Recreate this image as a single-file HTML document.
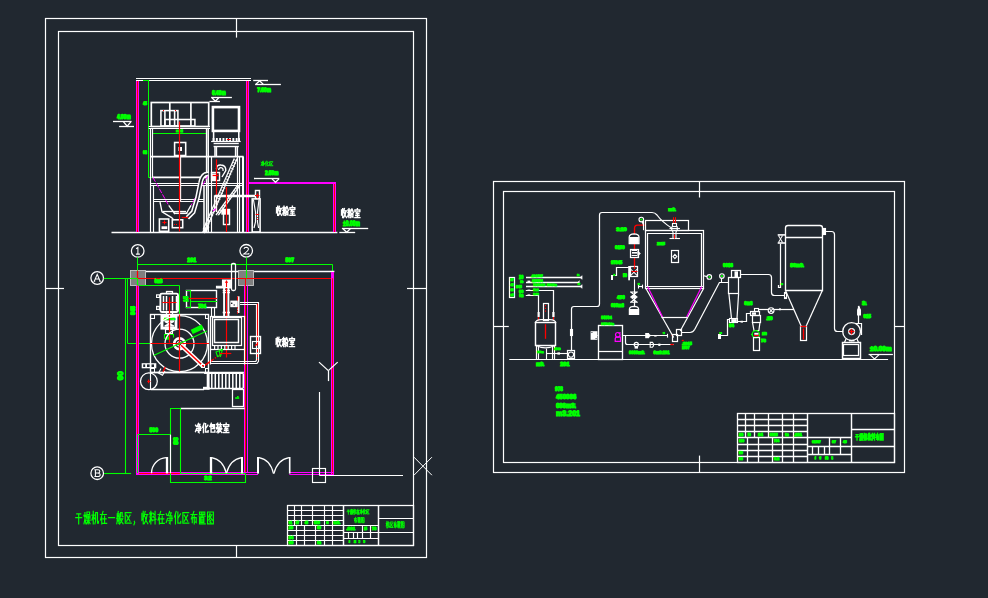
<!DOCTYPE html>
<html><head><meta charset="utf-8"><title>CAD</title>
<style>html,body{margin:0;padding:0;background:#212830;overflow:hidden}svg{display:block}</style></head>
<body><svg width="988" height="598" viewBox="0 0 988 598">
<rect width="988" height="598" fill="#212830"/>
<!-- left sheet frame -->
<rect x="45.5" y="18.5" width="381" height="539" stroke="#ffffff" stroke-width="1.2" fill="none"/>
<rect x="58.5" y="31.5" width="355" height="514" stroke="#ffffff" stroke-width="1.2" fill="none"/>
<line x1="236.5" y1="18.5" x2="236.5" y2="37.6" stroke="#ffffff" stroke-width="1.2"/>
<line x1="236.5" y1="545.5" x2="236.5" y2="557.5" stroke="#ffffff" stroke-width="1.2"/>
<line x1="45.5" y1="288.5" x2="64" y2="288.5" stroke="#ffffff" stroke-width="1.2"/>
<line x1="407" y1="288.5" x2="426.5" y2="288.5" stroke="#ffffff" stroke-width="1.2"/>
<line x1="414" y1="457.2" x2="431.9" y2="475.2" stroke="#ffffff" stroke-width="1"/>
<line x1="414" y1="475.2" x2="431.9" y2="457.2" stroke="#ffffff" stroke-width="1"/>
<!-- elevation view -->
<line x1="111.5" y1="232.5" x2="337.4" y2="232.5" stroke="#ffffff" stroke-width="1.3"/>
<line x1="136" y1="78.5" x2="251" y2="78.5" stroke="#ffffff" stroke-width="1.1"/>
<line x1="136" y1="80.5" x2="251" y2="80.5" stroke="#ffffff" stroke-width="1.1"/>
<line x1="137.5" y1="81" x2="137.5" y2="232" stroke="#ff00ff" stroke-width="3"/>
<line x1="137.5" y1="81" x2="137.5" y2="232" stroke="#ff0000" stroke-width="1"/>
<line x1="247.5" y1="81" x2="247.5" y2="232" stroke="#ff00ff" stroke-width="3"/>
<line x1="247.5" y1="81" x2="247.5" y2="232" stroke="#ff0000" stroke-width="1"/>
<line x1="249" y1="183" x2="336" y2="183" stroke="#ff00ff" stroke-width="2.1"/>
<line x1="334.5" y1="182" x2="334.5" y2="232" stroke="#ff00ff" stroke-width="3"/>
<line x1="334.5" y1="184" x2="334.5" y2="232" stroke="#ff0000" stroke-width="1"/>
<line x1="148.5" y1="80.7" x2="148.5" y2="177.6" stroke="#00ff00" stroke-width="1"/>
<line x1="143" y1="80.5" x2="149.2" y2="80.5" stroke="#00ff00" stroke-width="1"/>
<line x1="148.6" y1="177.5" x2="152.7" y2="177.5" stroke="#00ff00" stroke-width="1"/>
<line x1="148.6" y1="128.5" x2="152.3" y2="128.5" stroke="#00ff00" stroke-width="1"/>
<line x1="152.5" y1="128.4" x2="152.5" y2="133.6" stroke="#00ff00" stroke-width="1"/>
<line x1="206.5" y1="128.4" x2="206.5" y2="133.6" stroke="#00ff00" stroke-width="1"/>
<line x1="152.3" y1="133.5" x2="206.3" y2="133.5" stroke="#00ff00" stroke-width="1"/>
<rect x="143.3" y="101.7" width="3.4" height="2.8" fill="#00ff00" opacity="0.75"/>
<text text-rendering="geometricPrecision" x="143" y="104.9" font-family="Liberation Sans, sans-serif" font-weight="bold" font-size="4.97" textLength="4" lengthAdjust="spacingAndGlyphs" fill="#00ff00" stroke="#00ff00" stroke-width="0.95">45</text>
<rect x="143.3" y="150.7" width="3.4" height="2.9" fill="#00ff00" opacity="0.75"/>
<text text-rendering="geometricPrecision" x="143" y="154" font-family="Liberation Sans, sans-serif" font-weight="bold" font-size="5.11" textLength="4" lengthAdjust="spacingAndGlyphs" fill="#00ff00" stroke="#00ff00" stroke-width="0.95">08</text>
<rect x="176.3" y="129.6" width="6.4" height="1.7" fill="#00ff00" opacity="0.75"/>
<text text-rendering="geometricPrecision" x="176" y="131.7" font-family="Liberation Sans, sans-serif" font-weight="bold" font-size="3.45" textLength="7" lengthAdjust="spacingAndGlyphs" fill="#00ff00" stroke="#00ff00" stroke-width="0.83">m3.2</text>
<rect x="151.3" y="102.5" width="57.4" height="24" stroke="#ffffff" stroke-width="1.69" fill="none"/>
<line x1="169.8" y1="102.5" x2="169.8" y2="126.5" stroke="#ffffff" stroke-width="1.69"/>
<line x1="190.9" y1="102.5" x2="190.9" y2="126.5" stroke="#ffffff" stroke-width="1.69"/>
<rect x="160.9" y="110.6" width="17" height="15.4" stroke="#ffffff" stroke-width="1.56" fill="none"/>
<line x1="164.9" y1="110.6" x2="164.9" y2="126" stroke="#ffffff" stroke-width="1.56"/>
<line x1="174.6" y1="110.6" x2="174.6" y2="126" stroke="#ffffff" stroke-width="1.56"/>
<rect x="164.9" y="119.5" width="30" height="6.5" stroke="#ffffff" stroke-width="1.56" fill="none"/>
<line x1="163" y1="110.5" x2="164" y2="110.5" stroke="#ff0000" stroke-width="1.2"/>
<line x1="175" y1="110.5" x2="176" y2="110.5" stroke="#ff0000" stroke-width="1.2"/>
<line x1="148.7" y1="126.5" x2="210" y2="126.5" stroke="#ffffff" stroke-width="1.17"/>
<line x1="148.7" y1="128.5" x2="210" y2="128.5" stroke="#ffffff" stroke-width="1.17"/>
<line x1="150.5" y1="128.4" x2="150.5" y2="232.5" stroke="#ffffff" stroke-width="1.17"/>
<line x1="152.5" y1="128.4" x2="152.5" y2="177.4" stroke="#ffffff" stroke-width="1.17"/>
<line x1="153.5" y1="185.6" x2="153.5" y2="232.5" stroke="#ffffff" stroke-width="1.17"/>
<line x1="206.5" y1="128.4" x2="206.5" y2="232.5" stroke="#ffffff" stroke-width="1.3"/>
<line x1="208.2" y1="128.4" x2="208.2" y2="232.5" stroke="#ffffff" stroke-width="1.56"/>
<line x1="150.3" y1="156.6" x2="243.6" y2="156.6" stroke="#ffffff" stroke-width="1.82"/>
<rect x="174.6" y="142.5" width="11.1" height="13" stroke="#ffffff" stroke-width="1.56" fill="none"/>
<rect x="178.4" y="147" width="3.6" height="4" fill="#ffffff"/>
<line x1="180.5" y1="156.6" x2="180.5" y2="201.5" stroke="#ffffff" stroke-width="1.3"/>
<line x1="152" y1="177.4" x2="207" y2="177.4" stroke="#ffffff" stroke-width="1.56"/>
<line x1="150.5" y1="183.5" x2="243.6" y2="183.5" stroke="#ffffff" stroke-width="1.1"/>
<line x1="150.5" y1="185.5" x2="243.6" y2="185.5" stroke="#ffffff" stroke-width="1.1"/>
<line x1="153.6" y1="199.5" x2="204" y2="199.5" stroke="#ffffff" stroke-width="1.1"/>
<line x1="153.6" y1="201.5" x2="204" y2="201.5" stroke="#ffffff" stroke-width="1.1"/>
<line x1="204" y1="185" x2="204" y2="232.5" stroke="#ffffff" stroke-width="1.56"/>
<line x1="152.9" y1="177.4" x2="168.7" y2="205.4" stroke="#ff00ff" stroke-width="1" stroke-dasharray="5 1.5"/>
<line x1="208.3" y1="175.2" x2="191" y2="205.4" stroke="#ff00ff" stroke-width="1" stroke-dasharray="5 1.5"/>
<line x1="168.7" y1="205.4" x2="175" y2="214" stroke="#ffffff" stroke-width="1.3"/>
<line x1="191" y1="205.4" x2="186.5" y2="213.3" stroke="#ffffff" stroke-width="1.3"/>
<line x1="173.8" y1="213.3" x2="187.4" y2="213.3" stroke="#ffffff" stroke-width="1.56"/>
<path d="M160 202 L162 211.8 L171.6 217.6 L173.8 220" stroke="#ffffff" stroke-width="1.3" fill="none"/>
<path d="M162.5 211.5 L186 211.5" stroke="#ffffff" stroke-width="1.3" fill="none"/>
<path d="M187.4 217.8 L193.2 212 L197.5 197.5 L200.4 183.1 Q201.5 176.5 205 174.5 L208.3 173.7" stroke="#ffffff" stroke-width="4.68" fill="none"/>
<path d="M187.4 217.8 L193.2 212 L197.5 197.5 L200.4 183.1 Q201.5 176.5 205 174.5 L208.3 173.7" stroke="#212830" stroke-width="1.6" fill="none"/>
<rect x="159.4" y="219" width="9.3" height="12.3" stroke="#ffffff" stroke-width="1.56" fill="none"/>
<rect x="161.5" y="226.3" width="5.8" height="2.8" fill="#ffffff"/>
<line x1="162.4" y1="222.5" x2="166.4" y2="222.5" stroke="#ff0000" stroke-width="1.1"/>
<line x1="164.5" y1="220.4" x2="164.5" y2="224.4" stroke="#ff0000" stroke-width="1.1"/>
<rect x="172.3" y="219.8" width="10.4" height="7.9" stroke="#ffffff" stroke-width="1.56" fill="none"/>
<line x1="174" y1="224.5" x2="177" y2="224.5" stroke="#ff0000" stroke-width="1" stroke-dasharray="1 1"/>
<line x1="181.7" y1="217.5" x2="188.2" y2="217.5" stroke="#ff0000" stroke-width="1.2"/>
<line x1="179.5" y1="121.6" x2="179.5" y2="231.5" stroke="#ff0000" stroke-width="1.2"/>
<rect x="212.9" y="107.1" width="26.1" height="23.8" stroke="#ffffff" stroke-width="2.6" fill="none"/>
<line x1="213.6" y1="130.9" x2="213.6" y2="141" stroke="#ffffff" stroke-width="1.56"/>
<line x1="238.8" y1="130.9" x2="238.8" y2="141" stroke="#ffffff" stroke-width="1.56"/>
<line x1="212.6" y1="139.6" x2="240" y2="139.6" stroke="#ffffff" stroke-width="3.25" stroke-dasharray="1.9 1.4"/>
<line x1="227" y1="139.5" x2="230.5" y2="139.5" stroke="#ff0000" stroke-width="1"/>
<line x1="211.1" y1="141.5" x2="240.7" y2="141.5" stroke="#ffffff" stroke-width="1.17"/>
<line x1="213.6" y1="143.5" x2="238.8" y2="143.5" stroke="#ffffff" stroke-width="1.43"/>
<line x1="213.6" y1="146.5" x2="238.8" y2="146.5" stroke="#ffffff" stroke-width="1.43"/>
<line x1="215" y1="146.3" x2="215" y2="156.6" stroke="#ffffff" stroke-width="1.56"/>
<line x1="216.5" y1="146.3" x2="216.5" y2="156.6" stroke="#ffffff" stroke-width="1.3"/>
<line x1="235.5" y1="146.3" x2="235.5" y2="156.6" stroke="#ffffff" stroke-width="1.3"/>
<line x1="237.3" y1="146.3" x2="237.3" y2="156.6" stroke="#ffffff" stroke-width="1.56"/>
<line x1="211.5" y1="156.6" x2="211.5" y2="232.5" stroke="#ffffff" stroke-width="1.17"/>
<line x1="237.5" y1="156.6" x2="237.5" y2="232.5" stroke="#ffffff" stroke-width="1.17"/>
<line x1="239.5" y1="156.6" x2="239.5" y2="232.5" stroke="#ffffff" stroke-width="1.17"/>
<line x1="243" y1="156.6" x2="243" y2="232.5" stroke="#ffffff" stroke-width="2.08"/>
<line x1="237.1" y1="158.6" x2="206" y2="229.5" stroke="#ffffff" stroke-width="1.3"/>
<line x1="234.3" y1="158.6" x2="203.2" y2="229.5" stroke="#ffffff" stroke-width="1.3"/>
<line x1="236" y1="160" x2="205" y2="230.5" stroke="#ffffff" stroke-width="3.25" stroke-dasharray="0.8 2.2"/>
<line x1="240" y1="185.3" x2="218.4" y2="215" stroke="#ffffff" stroke-width="1.3"/>
<line x1="237.5" y1="185.3" x2="216" y2="215" stroke="#ffffff" stroke-width="1.3"/>
<line x1="238.8" y1="186" x2="217.2" y2="215" stroke="#ffffff" stroke-width="3.12" stroke-dasharray="0.8 2.2"/>
<path d="M208.2 226 L203.5 232.5" stroke="#ffffff" stroke-width="3.25" fill="none"/>
<path d="M216.5 169 Q216.5 164.5 221 165 Q226 165.3 225.8 170.5 L222 177" stroke="#ffffff" stroke-width="1.43" fill="none"/>
<path d="M218.5 170 Q219 167.5 221 167.6 Q223.5 168 223 171" stroke="#ffffff" stroke-width="1.3" fill="none"/>
<rect x="211.5" y="172.5" width="8" height="8" stroke="#ffffff" stroke-width="1.43" fill="none"/>
<rect x="211.6" y="173.5" width="4.4" height="7" fill="#ffffff"/>
<line x1="216.5" y1="159.4" x2="216.5" y2="212" stroke="#ff0000" stroke-width="1.2"/>
<line x1="212.6" y1="175.5" x2="218.6" y2="175.5" stroke="#ff0000" stroke-width="1.2"/>
<line x1="214.8" y1="195.5" x2="255.8" y2="195.5" stroke="#ffffff" stroke-width="1.3"/>
<line x1="214.8" y1="196.5" x2="255.8" y2="196.5" stroke="#ffffff" stroke-width="1.3"/>
<line x1="214.5" y1="195.3" x2="214.5" y2="212" stroke="#ffffff" stroke-width="1.3"/>
<line x1="216.5" y1="196.9" x2="216.5" y2="212" stroke="#ffffff" stroke-width="1.3"/>
<rect x="223.5" y="209.5" width="6" height="15" stroke="#ffffff" stroke-width="1.43" fill="none"/>
<rect x="221.3" y="209.7" width="8.6" height="5" fill="#ffffff"/>
<line x1="226.5" y1="187.1" x2="226.5" y2="232" stroke="#ff0000" stroke-width="1.2"/>
<line x1="213" y1="211" x2="216" y2="208.6" stroke="#ff00ff" stroke-width="1.2"/>
<rect x="255.5" y="190.5" width="4" height="8" stroke="#ffffff" stroke-width="1.43" fill="none"/>
<rect x="252.2" y="198.9" width="7.9" height="33.1" stroke="#ffffff" stroke-width="1.56" fill="none"/>
<path d="M253.4 199.5 L255.5 212 L255.5 222 L254 228" stroke="#ffffff" stroke-width="1.17" fill="none"/>
<path d="M259 199.5 L257.5 212 L257.5 222 L258.6 228" stroke="#ffffff" stroke-width="1.17" fill="none"/>
<line x1="255" y1="195.5" x2="259.4" y2="195.5" stroke="#ff0000" stroke-width="1.1"/>
<line x1="257.5" y1="193.5" x2="257.5" y2="198.2" stroke="#ff0000" stroke-width="1.1"/>
<line x1="255.6" y1="214.5" x2="258.8" y2="214.5" stroke="#ff0000" stroke-width="1.1"/>
<line x1="257.5" y1="217" x2="257.5" y2="221" stroke="#ff0000" stroke-width="0.9" stroke-dasharray="1 1"/>
<line x1="113" y1="121.5" x2="131.6" y2="121.5" stroke="#ffffff" stroke-width="1.3"/>
<path d="M123.5 121.9 L127.2 126.2 L130.8 121.9" stroke="#ffffff" stroke-width="1.3" fill="none"/>
<line x1="119.1" y1="126.5" x2="134" y2="126.5" stroke="#ffffff" stroke-width="1.3"/>
<rect x="117.3" y="114" width="13.2" height="4.2" fill="#00ff00" opacity="0.55"/>
<text text-rendering="geometricPrecision" x="117" y="118.6" font-family="Liberation Sans, sans-serif" font-weight="bold" font-size="6.9" textLength="13.8" lengthAdjust="spacingAndGlyphs" fill="#00ff00" stroke="#00ff00" stroke-width="0.95">4.00m</text>
<line x1="211.1" y1="97.5" x2="231.9" y2="97.5" stroke="#ffffff" stroke-width="1.3"/>
<path d="M212 97.8 L215.4 101.2 L218.7 97.8" stroke="#ffffff" stroke-width="1.3" fill="none"/>
<line x1="209.4" y1="101.5" x2="219.9" y2="101.5" stroke="#ffffff" stroke-width="1.3"/>
<rect x="212.3" y="90.2" width="13.2" height="4.1" fill="#00ff00" opacity="0.55"/>
<text text-rendering="geometricPrecision" x="212" y="94.7" font-family="Liberation Sans, sans-serif" font-weight="bold" font-size="6.76" textLength="13.8" lengthAdjust="spacingAndGlyphs" fill="#00ff00" stroke="#00ff00" stroke-width="0.95">6.40m</text>
<line x1="253.2" y1="80.5" x2="268" y2="80.5" stroke="#ffffff" stroke-width="1.3"/>
<path d="M255.9 84.2 L259.6 80.8 L263.2 84.2" stroke="#ffffff" stroke-width="1.3" fill="none"/>
<line x1="255.1" y1="84.5" x2="280.9" y2="84.5" stroke="#ffffff" stroke-width="1.3"/>
<rect x="257.5" y="87.5" width="13.2" height="4" fill="#00ff00" opacity="0.55"/>
<text text-rendering="geometricPrecision" x="257.2" y="91.9" font-family="Liberation Sans, sans-serif" font-weight="bold" font-size="6.62" textLength="13.8" lengthAdjust="spacingAndGlyphs" fill="#00ff00" stroke="#00ff00" stroke-width="0.95">7.60m</text>
<line x1="254" y1="178.5" x2="279.3" y2="178.5" stroke="#ffffff" stroke-width="1.3"/>
<path d="M272 178.9 L275.5 182.3 L279 178.9" stroke="#ffffff" stroke-width="1.3" fill="none"/>
<path d="M261.17 162.16 L261.55 162.74 M261.14 165.52 L261.69 164.22 M262.89 161.2 L262.21 162.64 M262.83 161.78 L263.76 161.78 L263.34 162.64 M262.21 162.88 L264.1 162.88 L264.1 164.8 L262.21 164.8 M261.86 163.84 L264.44 163.84 M263.17 162.64 L263.17 166 L262.72 165.71 M266.23 161.2 L265.37 163.36 M265.89 162.64 L265.89 166 M268.51 162.16 L267.13 163.94 M267.13 161.44 L267.13 165.76 L268.64 165.76 L268.64 165.04 M272.67 161.68 L269.64 161.68 L269.64 165.76 L272.74 165.76 M270.36 162.64 L272.16 165.04 M272.16 162.64 L270.36 165.04" stroke="#00ff00" stroke-width="0.9" fill="none" stroke-linecap="square"/>
<rect x="265.3" y="170.8" width="12.9" height="4" fill="#00ff00" opacity="0.55"/>
<text text-rendering="geometricPrecision" x="265" y="175.2" font-family="Liberation Sans, sans-serif" font-weight="bold" font-size="6.62" textLength="13.5" lengthAdjust="spacingAndGlyphs" fill="#00ff00" stroke="#00ff00" stroke-width="0.95">2.50m</text>
<line x1="341.9" y1="228.5" x2="368.2" y2="228.5" stroke="#ffffff" stroke-width="1.3"/>
<path d="M343 228.8 L346.7 232.3 L350.3 228.8" stroke="#ffffff" stroke-width="1.3" fill="none"/>
<line x1="339.3" y1="232.5" x2="355.2" y2="232.5" stroke="#ffffff" stroke-width="1.3"/>
<rect x="343.3" y="220.6" width="16.4" height="5" fill="#00ff00" opacity="0.3"/>
<text text-rendering="geometricPrecision" x="343" y="226" font-family="Liberation Sans, sans-serif" font-weight="bold" font-size="8" textLength="17" lengthAdjust="spacingAndGlyphs" fill="#00ff00" stroke="#00ff00" stroke-width="0.95">±0.00m</text>
<path d="M276.56 207.65 L276.56 212.6 L277.68 211.7 M277.68 206.3 L277.68 215.3 M279.36 206.3 L278.52 209.9 M279.08 208.55 L281.6 208.55 M281.04 208.55 L280.2 212.15 L278.52 215.3 M279.25 210.35 L280.2 213.05 L281.6 215.3 M283.98 206.3 L283.98 215.3 M282.8 210.35 L285.32 210.35 M283.02 207.47 L283.42 209 M284.98 207.47 L284.54 209 M283.98 210.35 L282.8 213.95 M283.98 210.8 L285.26 213.05 M286.72 206.75 L285.6 210.35 M287.06 206.75 L288.4 210.35 M285.94 211.25 L287.84 211.25 L287.84 214.94 L287.28 214.67 M286.72 211.25 L285.6 215.3 M292.4 206.3 L292.4 207.47 M289.94 209.18 L289.94 207.65 L294.86 207.65 L294.86 209.18 M290.72 209.54 L294.08 209.54 M292.4 209.54 L291.28 211.34 L293.86 211.34 M290.72 213.14 L294.08 213.14 M292.4 211.34 L292.4 215.3 M289.88 215.3 L294.92 215.3" stroke="#ffffff" stroke-width="1.4" fill="none" stroke-linecap="square"/>
<path d="M341.56 209.95 L341.56 214.9 L342.68 214 M342.68 208.6 L342.68 217.6 M344.36 208.6 L343.52 212.2 M344.08 210.85 L346.6 210.85 M346.04 210.85 L345.2 214.45 L343.52 217.6 M344.25 212.65 L345.2 215.35 L346.6 217.6 M348.98 208.6 L348.98 217.6 M347.8 212.65 L350.32 212.65 M348.02 209.77 L348.42 211.3 M349.98 209.77 L349.54 211.3 M348.98 212.65 L347.8 216.25 M348.98 213.1 L350.26 215.35 M351.72 209.05 L350.6 212.65 M352.06 209.05 L353.4 212.65 M350.94 213.55 L352.84 213.55 L352.84 217.24 L352.28 216.97 M351.72 213.55 L350.6 217.6 M357.4 208.6 L357.4 209.77 M354.94 211.48 L354.94 209.95 L359.86 209.95 L359.86 211.48 M355.72 211.84 L359.08 211.84 M357.4 211.84 L356.28 213.64 L358.86 213.64 M355.72 215.44 L359.08 215.44 M357.4 213.64 L357.4 217.6 M354.88 217.6 L359.92 217.6" stroke="#ffffff" stroke-width="1.4" fill="none" stroke-linecap="square"/>
<!-- plan view -->
<rect x="130.5" y="270.5" width="15" height="15" stroke="#c8c8c8" stroke-width="0.9" fill="#808080"/>
<rect x="238.5" y="270.5" width="15" height="15" stroke="#c8c8c8" stroke-width="0.9" fill="#808080"/>
<circle cx="137.7" cy="250.9" r="6.3" stroke="#ffffff" stroke-width="1.26" fill="none"/>
<path transform="translate(137.7 250.9)" d="M-1.6 -2.2 L0.2 -3.4 L0.2 3.2 M-1.8 3.2 L2.2 3.2" stroke="#fff" stroke-width="1.05" fill="none"/>
<circle cx="246.2" cy="250.8" r="6.3" stroke="#ffffff" stroke-width="1.26" fill="none"/>
<path transform="translate(246.2 250.8)" d="M-2.2 -1.8 Q-2 -3.5 0 -3.5 Q2.3 -3.4 2.2 -1.6 Q2 0 -2.4 3.2 L2.6 3.2 L2.6 2.2" stroke="#fff" stroke-width="1.05" fill="none"/>
<circle cx="97.2" cy="278" r="6.3" stroke="#ffffff" stroke-width="1.26" fill="none"/>
<path transform="translate(97.2 278)" d="M-2.9 3.3 L0 -3.6 L2.9 3.3 M-1.8 1 L1.8 1 M-3.6 3.3 L-2 3.3 M2 3.3 L3.6 3.3" stroke="#fff" stroke-width="1.05" fill="none"/>
<circle cx="97.2" cy="473.2" r="6.3" stroke="#ffffff" stroke-width="1.26" fill="none"/>
<path transform="translate(97.2 473.2)" d="M-2.8 -3.4 L0.8 -3.4 Q2.6 -3.3 2.6 -1.8 Q2.6 -0.3 0.8 -0.2 L-1.8 -0.2 M0.8 -0.2 Q3 0 3 1.6 Q3 3.3 0.8 3.3 L-2.8 3.3 M-1.8 -3.4 L-1.8 3.3" stroke="#fff" stroke-width="1.05" fill="none"/>
<line x1="137.5" y1="257.4" x2="137.5" y2="270.7" stroke="#00ff00" stroke-width="1"/>
<line x1="246.5" y1="257.4" x2="246.5" y2="271" stroke="#00ff00" stroke-width="1"/>
<line x1="103.7" y1="278.5" x2="137.7" y2="278.5" stroke="#00ff00" stroke-width="1"/>
<line x1="104.1" y1="473.5" x2="131.1" y2="473.5" stroke="#00ff00" stroke-width="1.1"/>
<line x1="137.7" y1="264.5" x2="332.7" y2="264.5" stroke="#00ff00" stroke-width="1"/>
<line x1="332.5" y1="264.6" x2="332.5" y2="278.2" stroke="#00ff00" stroke-width="1"/>
<rect x="187.5" y="257.8" width="8.4" height="3.6" fill="#00ff00" opacity="0.75"/>
<text text-rendering="geometricPrecision" x="187.2" y="261.8" font-family="Liberation Sans, sans-serif" font-weight="bold" font-size="6.07" textLength="9" lengthAdjust="spacingAndGlyphs" fill="#00ff00" stroke="#00ff00" stroke-width="0.95">201</text>
<rect x="285.8" y="257.8" width="8" height="3.6" fill="#00ff00" opacity="0.75"/>
<text text-rendering="geometricPrecision" x="285.5" y="261.8" font-family="Liberation Sans, sans-serif" font-weight="bold" font-size="6.07" textLength="8.6" lengthAdjust="spacingAndGlyphs" fill="#00ff00" stroke="#00ff00" stroke-width="0.95">597</text>
<line x1="145.9" y1="271.5" x2="238.3" y2="271.5" stroke="#ffffff" stroke-width="1.26"/>
<line x1="254.1" y1="271.5" x2="334.4" y2="271.5" stroke="#ffffff" stroke-width="1.26"/>
<line x1="137.7" y1="278.5" x2="332.7" y2="278.5" stroke="#ff0000" stroke-width="1.2"/>
<line x1="137.5" y1="270.7" x2="137.5" y2="278.4" stroke="#ff0000" stroke-width="1.2"/>
<line x1="137.5" y1="278.4" x2="137.5" y2="285.6" stroke="#00ff00" stroke-width="1.2"/>
<line x1="246.5" y1="271" x2="246.5" y2="278.4" stroke="#00ff00" stroke-width="1.1"/>
<line x1="125.5" y1="278.4" x2="125.5" y2="473.5" stroke="#00ff00" stroke-width="1.1"/>
<line x1="127.5" y1="278.4" x2="127.5" y2="343.4" stroke="#00ff00" stroke-width="1"/>
<line x1="127.6" y1="343.5" x2="150.8" y2="343.5" stroke="#00ff00" stroke-width="1"/>
<line x1="137.7" y1="285.5" x2="179.6" y2="285.5" stroke="#00ff00" stroke-width="1"/>
<line x1="179.5" y1="285.7" x2="179.5" y2="314.4" stroke="#00ff00" stroke-width="1"/>
<rect x="130.3" y="306.4" width="3.9" height="8.2" fill="#00ff00" opacity="0.75"/>
<text text-rendering="geometricPrecision" transform="translate(134.5 315) rotate(-90)" x="0" y="0" font-family="Liberation Sans, sans-serif" font-weight="bold" font-size="6.21" textLength="9" lengthAdjust="spacingAndGlyphs" fill="#00ff00" stroke="#00ff00" stroke-width="0.95">845</text>
<rect x="117.6" y="371.6" width="5.1" height="8.2" fill="#00ff00" opacity="0.3"/>
<text text-rendering="geometricPrecision" transform="translate(123 380.2) rotate(-90)" x="0" y="0" font-family="Liberation Sans, sans-serif" font-weight="bold" font-size="7.87" textLength="9" lengthAdjust="spacingAndGlyphs" fill="#00ff00" stroke="#00ff00" stroke-width="0.95">00</text>
<rect x="154.8" y="279.2" width="7.5" height="3.6" fill="#00ff00" opacity="0.75"/>
<text text-rendering="geometricPrecision" x="154.5" y="283.2" font-family="Liberation Sans, sans-serif" font-weight="bold" font-size="6.07" textLength="8.1" lengthAdjust="spacingAndGlyphs" fill="#00ff00" stroke="#00ff00" stroke-width="0.95">6m3</text>
<line x1="137.5" y1="285.6" x2="137.5" y2="475" stroke="#ff00ff" stroke-width="3"/>
<line x1="137.5" y1="285.6" x2="137.5" y2="434.5" stroke="#ff0000" stroke-width="1"/>
<line x1="244.5" y1="285.4" x2="244.5" y2="472" stroke="#ff00ff" stroke-width="1"/>
<line x1="245.5" y1="278.3" x2="245.5" y2="472" stroke="#ff0000" stroke-width="1"/>
<line x1="247.5" y1="285.4" x2="247.5" y2="472" stroke="#ff00ff" stroke-width="1"/>
<line x1="332.5" y1="272" x2="332.5" y2="475" stroke="#ff00ff" stroke-width="3"/>
<line x1="332.5" y1="278.3" x2="332.5" y2="474" stroke="#ff0000" stroke-width="1"/>
<line x1="136" y1="473.5" x2="181" y2="473.5" stroke="#ff00ff" stroke-width="3"/>
<line x1="139" y1="473.5" x2="181" y2="473.5" stroke="#ff0000" stroke-width="1"/>
<line x1="181" y1="472.5" x2="258" y2="472.5" stroke="#ff00ff" stroke-width="1"/>
<line x1="181" y1="474.5" x2="258" y2="474.5" stroke="#ff00ff" stroke-width="1"/>
<line x1="289.3" y1="472.5" x2="334" y2="472.5" stroke="#ff00ff" stroke-width="1"/>
<line x1="289.3" y1="474.5" x2="334" y2="474.5" stroke="#ff00ff" stroke-width="1"/>
<rect x="231.5" y="263.5" width="4" height="27" stroke="#ffffff" stroke-width="1.26" fill="none" rx="1.5"/>
<path d="M222.5 280 L230.8 280 L230.8 288 L216.5 288 L216.5 286.2 L222.5 286.2 Z" stroke="#ffffff" stroke-width="1.15" fill="#ffffff"/>
<line x1="226.5" y1="281" x2="226.5" y2="287" stroke="#ff0000" stroke-width="1.1"/>
<path d="M225.4 283 L226.5 280.6 L227.6 283" stroke="#ff0000" stroke-width="0.8" fill="none"/>
<line x1="224.1" y1="288" x2="224.1" y2="316" stroke="#ffffff" stroke-width="1.95"/>
<line x1="228.4" y1="288" x2="228.4" y2="316" stroke="#ffffff" stroke-width="1.95"/>
<line x1="222.7" y1="290.5" x2="230" y2="290.5" stroke="#ffffff" stroke-width="1.38"/>
<line x1="222.7" y1="292.5" x2="230" y2="292.5" stroke="#ffffff" stroke-width="1.38"/>
<line x1="222.7" y1="312.5" x2="230" y2="312.5" stroke="#ffffff" stroke-width="1.61"/>
<line x1="226.5" y1="288" x2="226.5" y2="357.5" stroke="#ff0000" stroke-width="1.2"/>
<rect x="230.3" y="300.6" width="6.9" height="6.6" fill="#ffffff"/>
<rect x="231" y="302.6" width="1.4" height="1.4" fill="#212830"/>
<rect x="233.6" y="304.4" width="1.2" height="1.2" fill="#212830"/>
<line x1="238.4" y1="296.3" x2="238.4" y2="313" stroke="#ffffff" stroke-width="2.18"/>
<line x1="237.5" y1="296.5" x2="237.5" y2="300.6" stroke="#ff0000" stroke-width="1.1"/>
<line x1="237.5" y1="307.2" x2="237.5" y2="314.5" stroke="#ff0000" stroke-width="1" stroke-dasharray="1.5 1"/>
<path d="M240 302.5 L258.5 302.5 L258.5 361.4 L257 363.5 L210.5 363.5" stroke="#ffffff" stroke-width="1.15" fill="none"/>
<path d="M240 304.5 L256.5 304.5 L256.5 360 L255.8 361.5 L210.5 361.5" stroke="#ffffff" stroke-width="1.15" fill="none"/>
<line x1="257.5" y1="303.7" x2="257.5" y2="345.4" stroke="#ff0000" stroke-width="1.1"/>
<line x1="257.5" y1="349" x2="257.5" y2="360" stroke="#ff0000" stroke-width="1" stroke-dasharray="3 2"/>
<rect x="250.5" y="336.5" width="10" height="17" stroke="#ffffff" stroke-width="1.38" fill="none"/>
<rect x="252.5" y="341.5" width="7" height="7" stroke="#ffffff" stroke-width="1.15" fill="none"/>
<path d="M255 346 L257.7 343.5" stroke="#ff0000" stroke-width="1.1" fill="none"/>
<rect x="160.4" y="293.6" width="17.6" height="18.4" stroke="#ffffff" stroke-width="1.84" fill="none" rx="1.5"/>
<rect x="166.5" y="291.5" width="6" height="2" stroke="#ffffff" stroke-width="1.26" fill="none"/>
<rect x="156" y="294.3" width="4.4" height="3.7" fill="#ffffff"/>
<rect x="156" y="305.8" width="4.4" height="4.2" fill="#ffffff"/>
<rect x="157.2" y="295.4" width="1.6" height="1.6" fill="#212830"/>
<rect x="157.2" y="307.2" width="1.6" height="1.6" fill="#212830"/>
<line x1="163.5" y1="296" x2="163.5" y2="310.5" stroke="#ffffff" stroke-width="1.49"/>
<line x1="166.5" y1="296" x2="166.5" y2="310.5" stroke="#ffffff" stroke-width="1.49"/>
<line x1="172.5" y1="296" x2="172.5" y2="310.5" stroke="#ffffff" stroke-width="1.49"/>
<line x1="176.5" y1="296" x2="176.5" y2="310.5" stroke="#ffffff" stroke-width="1.49"/>
<line x1="162.3" y1="302.5" x2="176.5" y2="302.5" stroke="#ff0000" stroke-width="1.1"/>
<line x1="166.5" y1="312" x2="166.5" y2="314.5" stroke="#ffffff" stroke-width="1.38"/>
<line x1="172.5" y1="312" x2="172.5" y2="314.5" stroke="#ffffff" stroke-width="1.38"/>
<rect x="160.5" y="314.5" width="16.9" height="15.1" fill="#ffffff"/>
<rect x="163.4" y="320.4" width="11.2" height="6.4" fill="#212830"/>
<rect x="164" y="317.8" width="10.9" height="1.3" fill="#00ff00" opacity="0.75"/>
<text text-rendering="geometricPrecision" x="163.7" y="319.5" font-family="Liberation Sans, sans-serif" font-weight="bold" font-size="2.9" textLength="11.5" lengthAdjust="spacingAndGlyphs" fill="#00ff00" stroke="#00ff00" stroke-width="0.7">.2015978</text>
<path d="M164.5 321.2 L174 321.2 M164.5 326 L174 326 M165 321.5 L173.5 325.8 M173.5 321.5 L165 325.8" stroke="#ffffff" stroke-width="1.49" fill="none"/>
<rect x="165.5" y="329.5" width="7" height="4" stroke="#ffffff" stroke-width="1.15" fill="none"/>
<path d="M164.5 339 L164.5 334.5 L173.5 334.5 L173.5 337.5" stroke="#00ff00" stroke-width="1.1" fill="none"/>
<rect x="166" y="336.5" width="3" height="3.2" fill="#00ff00"/>
<line x1="169.5" y1="297.2" x2="169.5" y2="342.6" stroke="#ff0000" stroke-width="1.2"/>
<rect x="186.5" y="290.5" width="30" height="17" stroke="#ffffff" stroke-width="1.38" fill="none"/>
<line x1="190.5" y1="290.5" x2="190.5" y2="307.7" stroke="#00ff00" stroke-width="1.1"/>
<line x1="186" y1="290.5" x2="190.8" y2="290.5" stroke="#00ff00" stroke-width="1"/>
<line x1="186" y1="307.5" x2="190.8" y2="307.5" stroke="#00ff00" stroke-width="1"/>
<line x1="188" y1="298.5" x2="217" y2="298.5" stroke="#ff0000" stroke-width="1.2"/>
<line x1="190.8" y1="301.5" x2="217" y2="301.5" stroke="#00ff00" stroke-width="1.1"/>
<rect x="183.4" y="296.6" width="4.2" height="5" fill="#00ff00" opacity="0.55"/>
<text text-rendering="geometricPrecision" transform="translate(187.9 302) rotate(-90)" x="0" y="0" font-family="Liberation Sans, sans-serif" font-weight="bold" font-size="6.62" textLength="5.8" lengthAdjust="spacingAndGlyphs" fill="#00ff00" stroke="#00ff00" stroke-width="0.95">15</text>
<rect x="198.5" y="304.4" width="7.4" height="3.4" fill="#00ff00" opacity="0.75"/>
<text text-rendering="geometricPrecision" x="198.2" y="308.2" font-family="Liberation Sans, sans-serif" font-weight="bold" font-size="5.8" textLength="8" lengthAdjust="spacingAndGlyphs" fill="#00ff00" stroke="#00ff00" stroke-width="0.95">784</text>
<line x1="211.5" y1="307.7" x2="211.5" y2="316.7" stroke="#ffffff" stroke-width="1.15"/>
<line x1="214.5" y1="307.7" x2="214.5" y2="316.7" stroke="#ffffff" stroke-width="1.15"/>
<rect x="150.5" y="314.5" width="58" height="58" stroke="#ffffff" stroke-width="1.38" fill="none"/>
<rect x="150.5" y="314.5" width="4" height="4" stroke="#ffffff" stroke-width="1.03" fill="none"/>
<rect x="205.5" y="314.5" width="3" height="4" stroke="#ffffff" stroke-width="1.03" fill="none"/>
<rect x="150.5" y="368.5" width="4" height="4" stroke="#ffffff" stroke-width="1.03" fill="none"/>
<rect x="205.5" y="368.5" width="3" height="4" stroke="#ffffff" stroke-width="1.03" fill="none"/>
<circle cx="179.5" cy="343.7" r="28" stroke="#ffffff" stroke-width="1.26" fill="none"/>
<circle cx="179.5" cy="343.7" r="14.5" stroke="#ffffff" stroke-width="1.26" fill="none"/>
<circle cx="179.5" cy="343.7" r="5.3" stroke="#ffffff" stroke-width="2.76" fill="none"/>
<circle cx="179.5" cy="343.7" r="2.2" stroke="#ffffff" stroke-width="1.03" fill="none"/>
<line x1="150.5" y1="343.5" x2="209" y2="343.5" stroke="#ff0000" stroke-width="1.2"/>
<line x1="179.5" y1="314.5" x2="179.5" y2="371.5" stroke="#ff0000" stroke-width="1.2"/>
<line x1="153.6" y1="355.5" x2="206.9" y2="331" stroke="#00ff00" stroke-width="1.1"/>
<g transform="rotate(-24.7 197.5 329.5)"><rect x="191.3" y="326.8" width="12" height="4.8" fill="#00ff00"/></g>
<line x1="181" y1="345.2" x2="203.3" y2="366.3" stroke="#ffffff" stroke-width="4.37"/>
<line x1="181" y1="345.2" x2="203.3" y2="366.3" stroke="#ff0000" stroke-width="1.4"/>
<line x1="203.3" y1="366.3" x2="212.6" y2="359.8" stroke="#ff0000" stroke-width="1.6"/>
<line x1="212.6" y1="359.8" x2="221" y2="354" stroke="#ff0000" stroke-width="1.3" stroke-dasharray="1.5 1.2"/>
<rect x="201.5" y="364.5" width="3" height="3" stroke="#ffffff" stroke-width="1.03" fill="none"/>
<rect x="210.5" y="316.5" width="34" height="33" stroke="#ffffff" stroke-width="1.26" fill="none"/>
<rect x="212.5" y="317.5" width="29" height="28" stroke="#ffffff" stroke-width="1.26" fill="none"/>
<rect x="214.5" y="319.5" width="24" height="23" stroke="#ffffff" stroke-width="1.49" fill="none"/>
<line x1="214" y1="347.6" x2="237" y2="347.6" stroke="#ffffff" stroke-width="4.14" stroke-dasharray="1.2 2.2"/>
<line x1="210.5" y1="349.5" x2="210.5" y2="364.5" stroke="#ffffff" stroke-width="1.15"/>
<line x1="244.5" y1="349.5" x2="244.5" y2="364.5" stroke="#ffffff" stroke-width="1.15"/>
<path d="M216 352 L222.5 349.2 L221 355 L217.5 356.5 Z M219 349.5 L220.5 357" stroke="#00ff00" stroke-width="1.1" fill="none"/>
<line x1="219.8" y1="353.5" x2="231.3" y2="353.5" stroke="#ff0000" stroke-width="1.2"/>
<rect x="141.7" y="363.2" width="14.6" height="5.1" fill="#ffffff"/>
<rect x="143.2" y="364.4" width="2" height="2.6" fill="#212830"/>
<rect x="147" y="364.4" width="2.6" height="2.6" fill="#212830"/>
<rect x="151.5" y="364.4" width="2.5" height="2.6" fill="#212830"/>
<circle cx="148.9" cy="381.3" r="8.4" stroke="#ffffff" stroke-width="1.26" fill="none"/>
<line x1="150.5" y1="372" x2="150.5" y2="389.5" stroke="#ffffff" stroke-width="1.15"/>
<line x1="147.3" y1="381.5" x2="150.4" y2="381.5" stroke="#ff0000" stroke-width="1.1"/>
<line x1="148.5" y1="379.5" x2="148.5" y2="383.2" stroke="#ff0000" stroke-width="1.1"/>
<path d="M161 368.5 L158.5 373 L162.5 375.3 L165 371" stroke="#ffffff" stroke-width="1.15" fill="none"/>
<line x1="165.2" y1="367" x2="163" y2="372" stroke="#ff0000" stroke-width="1.4"/>
<line x1="150.6" y1="372.5" x2="243.9" y2="372.5" stroke="#ffffff" stroke-width="1.26"/>
<line x1="150.6" y1="389.5" x2="204.1" y2="389.5" stroke="#ffffff" stroke-width="1.26"/>
<rect x="203" y="386.8" width="6.6" height="3" fill="#ffffff"/>
<line x1="204.1" y1="373.5" x2="243.1" y2="373.5" stroke="#ffffff" stroke-width="1.15"/>
<line x1="207" y1="388.5" x2="243.1" y2="388.5" stroke="#ffffff" stroke-width="1.26"/>
<rect x="206.7" y="373.2" width="2.9" height="15.3" fill="#ffffff"/>
<rect x="211.05" y="373.4" width="1.5" height="14.9" fill="#fff"/>
<rect x="214.55" y="373.4" width="1.5" height="14.9" fill="#fff"/>
<rect x="218.05" y="373.4" width="1.5" height="14.9" fill="#fff"/>
<rect x="221.55" y="373.4" width="1.5" height="14.9" fill="#fff"/>
<rect x="225.05" y="373.4" width="1.5" height="14.9" fill="#fff"/>
<rect x="228.55" y="373.4" width="1.5" height="14.9" fill="#fff"/>
<rect x="232.05" y="373.4" width="1.5" height="14.9" fill="#fff"/>
<rect x="235.55" y="373.4" width="1.5" height="14.9" fill="#fff"/>
<rect x="239.05" y="373.4" width="1.5" height="14.9" fill="#fff"/>
<rect x="242.55" y="373.4" width="1.5" height="14.9" fill="#fff"/>
<rect x="232.5" y="389.5" width="11" height="17" stroke="#ffffff" stroke-width="1.26" fill="none"/>
<rect x="235.2" y="397.2" width="4" height="1.7" fill="#00ff00"/>
<rect x="237" y="396" width="1.6" height="1.3" fill="#00ff00"/>
<line x1="180.6" y1="408.5" x2="244.7" y2="408.5" stroke="#ffffff" stroke-width="1.26"/>
<path d="M170.5 473.4 L170.5 408.5 L180.5 408.5 L180.5 473.5 L245.5 473.5" stroke="#00ff00" stroke-width="1.1" fill="none"/>
<line x1="137.7" y1="434.5" x2="170.4" y2="434.5" stroke="#00ff00" stroke-width="1.1"/>
<line x1="137.5" y1="434.6" x2="137.5" y2="473" stroke="#00ff00" stroke-width="1"/>
<line x1="170.5" y1="434.6" x2="170.5" y2="473.4" stroke="#ffffff" stroke-width="1.15"/>
<path d="M170.5 473.4 L170.5 482.5 L245.5 482.5 L245.5 474" stroke="#00ff00" stroke-width="1.1" fill="none"/>
<rect x="149.7" y="427.6" width="8.2" height="3.7" fill="#00ff00" opacity="0.75"/>
<text text-rendering="geometricPrecision" x="149.4" y="431.7" font-family="Liberation Sans, sans-serif" font-weight="bold" font-size="6.21" textLength="8.8" lengthAdjust="spacingAndGlyphs" fill="#00ff00" stroke="#00ff00" stroke-width="0.95">500</text>
<rect x="173.3" y="437.5" width="4.2" height="6.9" fill="#00ff00" opacity="0.55"/>
<text text-rendering="geometricPrecision" transform="translate(177.8 444.8) rotate(-90)" x="0" y="0" font-family="Liberation Sans, sans-serif" font-weight="bold" font-size="6.62" textLength="7.7" lengthAdjust="spacingAndGlyphs" fill="#00ff00" stroke="#00ff00" stroke-width="0.95">86</text>
<rect x="204.6" y="475.8" width="6.7" height="3.5" fill="#00ff00" opacity="0.75"/>
<text text-rendering="geometricPrecision" x="204.3" y="479.7" font-family="Liberation Sans, sans-serif" font-weight="bold" font-size="5.93" textLength="7.3" lengthAdjust="spacingAndGlyphs" fill="#00ff00" stroke="#00ff00" stroke-width="0.95">3.2</text>
<line x1="167" y1="457" x2="167" y2="473.4" stroke="#ffffff" stroke-width="2.3"/>
<path d="M166.2 457.6 A15.5 15.5 0 0 0 151.5 473.2" stroke="#ffffff" stroke-width="1.26" fill="none"/>
<line x1="211" y1="457" x2="211" y2="473.4" stroke="#ffffff" stroke-width="2.3"/>
<path d="M211.6 457.6 Q223 459.5 226.3 473.2" stroke="#ffffff" stroke-width="1.26" fill="none"/>
<line x1="242" y1="457" x2="242" y2="473.4" stroke="#ffffff" stroke-width="2.01"/>
<path d="M241.5 457.6 Q230 459.5 226.5 473.2" stroke="#ffffff" stroke-width="1.26" fill="none"/>
<line x1="258" y1="457" x2="258" y2="473.6" stroke="#ffffff" stroke-width="2.01"/>
<path d="M259 457.6 Q270.3 459.5 273.5 473.6" stroke="#ffffff" stroke-width="1.26" fill="none"/>
<line x1="289.7" y1="457" x2="289.7" y2="473.6" stroke="#ffffff" stroke-width="1.61"/>
<path d="M289 457.6 Q277.5 459.5 273.9 473.6" stroke="#ffffff" stroke-width="1.26" fill="none"/>
<line x1="319.5" y1="392" x2="319.5" y2="475.5" stroke="#ffffff" stroke-width="1.15"/>
<line x1="319.5" y1="475.5" x2="403" y2="475.5" stroke="#ffffff" stroke-width="1.15"/>
<rect x="312.5" y="468.5" width="13" height="14" stroke="#ffffff" stroke-width="1.15" fill="none"/>
<line x1="319" y1="362.1" x2="328.3" y2="370.6" stroke="#ffffff" stroke-width="1.26"/>
<line x1="337.7" y1="362.1" x2="328.3" y2="370.6" stroke="#ffffff" stroke-width="1.26"/>
<line x1="328.5" y1="370.6" x2="328.5" y2="381.1" stroke="#ffffff" stroke-width="1.26"/>
<path d="M276.16 338.78 L276.16 343.84 L277.28 342.92 M277.28 337.4 L277.28 346.6 M278.96 337.4 L278.12 341.08 M278.68 339.7 L281.2 339.7 M280.64 339.7 L279.8 343.38 L278.12 346.6 M278.85 341.54 L279.8 344.3 L281.2 346.6 M283.58 337.4 L283.58 346.6 M282.4 341.54 L284.92 341.54 M282.62 338.6 L283.02 340.16 M284.58 338.6 L284.14 340.16 M283.58 341.54 L282.4 345.22 M283.58 342 L284.86 344.3 M286.32 337.86 L285.2 341.54 M286.66 337.86 L288 341.54 M285.54 342.46 L287.44 342.46 L287.44 346.23 L286.88 345.96 M286.32 342.46 L285.2 346.6 M292 337.4 L292 338.6 M289.54 340.34 L289.54 338.78 L294.46 338.78 L294.46 340.34 M290.32 340.71 L293.68 340.71 M292 340.71 L290.88 342.55 L293.46 342.55 M290.32 344.39 L293.68 344.39 M292 342.55 L292 346.6 M289.48 346.6 L294.52 346.6" stroke="#ffffff" stroke-width="1.4" fill="none" stroke-linecap="square"/>
<path d="M195.59 425.14 L196.23 426.24 M195.53 431.58 L196.46 429.1 M198.49 423.3 L197.33 426.06 M198.37 424.4 L199.94 424.4 L199.24 426.06 M197.33 426.52 L200.52 426.52 L200.52 430.2 L197.33 430.2 M196.75 428.36 L201.1 428.36 M198.95 426.06 L198.95 432.5 L198.2 431.95 M204.04 423.3 L202.59 427.44 M203.46 426.06 L203.46 432.5 M207.87 425.14 L205.55 428.54 M205.55 423.76 L205.55 432.04 L208.1 432.04 L208.1 430.66 M211.33 423.3 L209.88 426.52 M211.04 424.77 L214.52 424.77 L214.52 428.82 L213.94 428.64 M211.04 426.24 L213.36 426.24 L213.36 428.45 L211.04 428.45 M211.04 426.24 L211.04 432.13 L214.87 432.13 L214.87 430.66 M217.75 423.3 L217.75 427.9 M216.59 424.22 L217.17 425.14 M216.53 427.53 L217.75 426.52 M218.91 424.68 L221.87 424.68 M220.36 423.3 L220.36 426.98 M219.49 426.98 L221.29 426.98 M219.2 427.53 L219.2 428.45 M216.59 428.82 L221.81 428.82 M219.2 428.82 L216.88 432.04 M218.33 430.29 L218.33 432.5 L219.2 431.86 M220.94 429.74 L219.9 431.12 M219.61 430.29 L221.87 432.5 M226.2 423.3 L226.2 424.5 M223.65 426.24 L223.65 424.68 L228.75 424.68 L228.75 426.24 M224.46 426.61 L227.94 426.61 M226.2 426.61 L225.04 428.45 L227.71 428.45 M224.46 430.29 L227.94 430.29 M226.2 428.45 L226.2 432.5 M223.59 432.5 L228.81 432.5" stroke="#ffffff" stroke-width="1.4" fill="none" stroke-linecap="square"/>
<path d="M76.72 513.88 L80.68 513.88 M75.73 517.6 L81.67 517.6 M78.7 513.88 L78.7 523.8 M84.95 512.64 L84.95 518.84 L83.96 523.8 M84.95 518.84 L85.94 523.8 M83.83 515.12 L84.16 516.36 M86.07 515.12 L85.74 516.36 M86.93 512.02 L89.57 512.02 L89.57 514.5 L86.93 514.5 L86.93 512.02 M86.47 515.74 L87.79 515.74 L87.79 518.22 L86.47 518.22 L86.47 515.74 M88.71 515.74 L90.03 515.74 L90.03 518.22 L88.71 518.22 L88.71 515.74 M86.27 520.08 L90.23 520.08 M88.25 518.22 L88.25 523.8 M88.25 520.08 L86.6 523.8 M88.25 520.08 L90.1 523.8 M91.86 515.12 L94.63 515.12 M93.25 511.4 L93.25 523.8 M93.25 515.12 L91.86 520.08 M93.25 515.74 L94.63 518.84 M95.62 512.64 L95.62 520.7 L94.9 523.8 M95.62 512.64 L97.47 512.64 L97.47 523.18 L98.46 523.18 L98.46 521.32 M100.42 514.5 L106.36 514.5 M103.06 511.4 L100.42 520.08 M101.74 517.6 L101.74 523.8 M103.06 518.84 L106.16 518.84 M104.58 516.11 L104.58 523.3 M102.73 523.3 L106.69 523.3 M108.65 517.6 L114.59 517.6 M118.27 511.4 L117.87 513.63 M117.21 513.88 L117.21 521.32 L116.75 523.8 M117.21 513.88 L119.19 513.88 L119.19 523.8 L118.66 523.18 M116.55 518.22 L119.85 518.22 M118.13 515.37 L118.33 516.61 M118.13 519.83 L118.33 521.07 M120.51 512.64 L120.51 516.11 L119.98 517.6 M120.51 512.64 L122.16 512.64 L122.16 516.73 L123.15 516.73 M120.18 518.84 L122.69 518.84 L119.85 523.8 M120.51 520.08 L123.15 523.8 M131.05 512.64 L125.24 512.64 L125.24 523.18 L131.18 523.18 M126.63 515.12 L130.06 521.32 M130.06 515.12 L126.63 521.32 M134.33 521.32 L134.73 522.56 L133.93 524.79 M141.9 513.26 L141.9 520.08 L143.22 518.84 M143.22 511.4 L143.22 523.8 M145.2 511.4 L144.21 516.36 M144.87 514.5 L147.84 514.5 M147.18 514.5 L146.19 519.46 L144.21 523.8 M145.07 516.98 L146.19 520.7 L147.84 523.8 M150.86 511.4 L150.86 523.8 M149.47 516.98 L152.44 516.98 M149.73 513.01 L150.2 515.12 M152.04 513.01 L151.52 515.12 M150.86 516.98 L149.47 521.94 M150.86 517.6 L152.37 520.7 M153.3 513.26 L154.09 514.62 M153.3 516.36 L154.09 517.72 M152.77 520.33 L156.07 519.21 M155.08 511.4 L155.08 523.8 M158.03 514.5 L163.97 514.5 M160.67 511.4 L158.03 520.08 M159.35 517.6 L159.35 523.8 M160.67 518.84 L163.77 518.84 M162.19 516.11 L162.19 523.3 M160.34 523.3 L164.3 523.3 M166.26 513.88 L166.99 515.37 M166.19 522.56 L167.25 519.21 M169.56 511.4 L168.24 515.12 M169.43 512.89 L171.21 512.89 L170.42 515.12 M168.24 515.74 L171.87 515.74 L171.87 520.7 L168.24 520.7 M167.58 518.22 L172.53 518.22 M170.09 515.12 L170.09 523.8 L169.23 523.06 M176.14 511.4 L174.49 516.98 M175.48 515.12 L175.48 523.8 M180.5 513.88 L177.86 518.47 M177.86 512.02 L177.86 523.18 L180.76 523.18 L180.76 521.32 M188.66 512.64 L182.85 512.64 L182.85 523.18 L188.79 523.18 M184.24 515.12 L187.67 521.32 M187.67 515.12 L184.24 521.32 M190.95 514.5 L196.89 514.5 M193.92 511.4 L191.28 518.84 M192.27 517.6 L192.27 522.56 M192.27 517.6 L196.23 517.6 L196.23 522.56 L195.57 522.06 M194.25 515.74 L194.25 523.8 M199.51 512.02 L204.79 512.02 L204.79 514.5 L199.51 514.5 L199.51 512.02 M201.29 512.02 L201.29 514.5 M203.01 512.02 L203.01 514.5 M199.18 516.11 L205.12 516.11 M202.15 514.5 L202.15 517.6 M200.7 517.6 L203.87 517.6 L203.87 522.44 L200.7 522.44 L200.7 517.6 M200.7 519.21 L203.87 519.21 M200.7 520.82 L203.87 520.82 M199.51 517.6 L199.51 523.8 L205.25 523.8 M207.54 512.02 L213.35 512.02 L213.35 523.8 L207.54 523.8 L207.54 512.02 M210.05 513.26 L208.73 516.98 M209.72 514.75 L211.7 514.75 L208.73 520.08 M209.72 516.61 L212.36 520.08 M210.05 520.08 L210.78 520.95 M209.72 521.82 L211.04 522.81" stroke="#00ff00" stroke-width="1.15" fill="none" stroke-linecap="square"/>
<!-- title block left -->
<rect x="287.5" y="505.5" width="126" height="40" stroke="#ffffff" stroke-width="1.26" fill="none"/>
<line x1="287.5" y1="510.5" x2="343.5" y2="510.5" stroke="#ffffff" stroke-width="1.15"/>
<line x1="287.5" y1="515.5" x2="343.5" y2="515.5" stroke="#ffffff" stroke-width="1.15"/>
<line x1="287.5" y1="520.5" x2="343.5" y2="520.5" stroke="#ffffff" stroke-width="1.15"/>
<line x1="287.5" y1="525.5" x2="343.5" y2="525.5" stroke="#ffffff" stroke-width="1.15"/>
<line x1="287.5" y1="530.5" x2="343.5" y2="530.5" stroke="#ffffff" stroke-width="1.15"/>
<line x1="287.5" y1="535.5" x2="343.5" y2="535.5" stroke="#ffffff" stroke-width="1.15"/>
<line x1="287.5" y1="540.5" x2="343.5" y2="540.5" stroke="#ffffff" stroke-width="1.15"/>
<line x1="294.5" y1="505.5" x2="294.5" y2="525.5" stroke="#ffffff" stroke-width="1.15"/>
<line x1="301.5" y1="505.5" x2="301.5" y2="525.5" stroke="#ffffff" stroke-width="1.15"/>
<line x1="312.5" y1="505.5" x2="312.5" y2="525.5" stroke="#ffffff" stroke-width="1.15"/>
<line x1="296.5" y1="525.5" x2="296.5" y2="545.5" stroke="#ffffff" stroke-width="1.15"/>
<line x1="304.5" y1="525.5" x2="304.5" y2="545.5" stroke="#ffffff" stroke-width="1.15"/>
<line x1="315.5" y1="525.5" x2="315.5" y2="545.5" stroke="#ffffff" stroke-width="1.15"/>
<line x1="324.5" y1="505.5" x2="324.5" y2="545.5" stroke="#ffffff" stroke-width="1.15"/>
<line x1="332.5" y1="505.5" x2="332.5" y2="545.5" stroke="#ffffff" stroke-width="1.15"/>
<line x1="343.5" y1="505.5" x2="343.5" y2="545.5" stroke="#ffffff" stroke-width="1.49"/>
<line x1="378.5" y1="505.5" x2="378.5" y2="545.5" stroke="#ffffff" stroke-width="1.49"/>
<line x1="343.5" y1="525.5" x2="378.5" y2="525.5" stroke="#ffffff" stroke-width="1.15"/>
<line x1="343.5" y1="532.5" x2="378.5" y2="532.5" stroke="#ffffff" stroke-width="1.15"/>
<line x1="343.5" y1="538.5" x2="378.5" y2="538.5" stroke="#ffffff" stroke-width="1.15"/>
<line x1="362.5" y1="525.5" x2="362.5" y2="538.5" stroke="#ffffff" stroke-width="1.15"/>
<line x1="370.5" y1="525.5" x2="370.5" y2="538.5" stroke="#ffffff" stroke-width="1.15"/>
<line x1="348.5" y1="532.5" x2="348.5" y2="538.5" stroke="#ffffff" stroke-width="1.15"/>
<line x1="353.5" y1="532.5" x2="353.5" y2="538.5" stroke="#ffffff" stroke-width="1.15"/>
<line x1="357.5" y1="532.5" x2="357.5" y2="538.5" stroke="#ffffff" stroke-width="1.15"/>
<line x1="378.5" y1="518.5" x2="413.5" y2="518.5" stroke="#ffffff" stroke-width="1.15"/>
<line x1="378.5" y1="532.5" x2="413.5" y2="532.5" stroke="#ffffff" stroke-width="1.15"/>
<rect x="289.09" y="521.5" width="2.66" height="2.32" fill="#00ff00" opacity="0.75"/>
<text text-rendering="geometricPrecision" x="288.79" y="524.22" font-family="Liberation Sans, sans-serif" font-weight="bold" font-size="4.3" textLength="3.26" lengthAdjust="spacingAndGlyphs" fill="#00ff00" stroke="#00ff00" stroke-width="0.95">01</text>
<rect x="296.17" y="521.5" width="2.66" height="2.32" fill="#00ff00" opacity="0.75"/>
<text text-rendering="geometricPrecision" x="295.87" y="524.22" font-family="Liberation Sans, sans-serif" font-weight="bold" font-size="4.3" textLength="3.26" lengthAdjust="spacingAndGlyphs" fill="#00ff00" stroke="#00ff00" stroke-width="0.95">97</text>
<rect x="305.1" y="521.5" width="2.66" height="2.32" fill="#00ff00" opacity="0.75"/>
<text text-rendering="geometricPrecision" x="304.8" y="524.22" font-family="Liberation Sans, sans-serif" font-weight="bold" font-size="4.3" textLength="3.26" lengthAdjust="spacingAndGlyphs" fill="#00ff00" stroke="#00ff00" stroke-width="0.95">45</text>
<rect x="314.31" y="521.5" width="5.35" height="2.32" fill="#00ff00" opacity="0.75"/>
<text text-rendering="geometricPrecision" x="314.01" y="524.22" font-family="Liberation Sans, sans-serif" font-weight="bold" font-size="4.3" textLength="5.95" lengthAdjust="spacingAndGlyphs" fill="#00ff00" stroke="#00ff00" stroke-width="0.95">086</text>
<rect x="326.05" y="521.1" width="2.83" height="3.12" fill="#00ff00"/>
<rect x="333.86" y="521.5" width="6.06" height="2.32" fill="#00ff00" opacity="0.75"/>
<text text-rendering="geometricPrecision" x="333.56" y="524.22" font-family="Liberation Sans, sans-serif" font-weight="bold" font-size="4.3" textLength="6.66" lengthAdjust="spacingAndGlyphs" fill="#00ff00" stroke="#00ff00" stroke-width="0.95">m3.</text>
<rect x="289.09" y="526.74" width="3.65" height="2.32" fill="#00ff00" opacity="0.75"/>
<text text-rendering="geometricPrecision" x="288.79" y="529.46" font-family="Liberation Sans, sans-serif" font-weight="bold" font-size="4.3" textLength="4.25" lengthAdjust="spacingAndGlyphs" fill="#00ff00" stroke="#00ff00" stroke-width="0.95">20</text>
<rect x="317.43" y="526.74" width="3.37" height="2.32" fill="#00ff00" opacity="0.75"/>
<text text-rendering="geometricPrecision" x="317.13" y="529.46" font-family="Liberation Sans, sans-serif" font-weight="bold" font-size="4.3" textLength="3.97" lengthAdjust="spacingAndGlyphs" fill="#00ff00" stroke="#00ff00" stroke-width="0.95">59</text>
<rect x="289.09" y="536.38" width="4.08" height="2.32" fill="#00ff00" opacity="0.75"/>
<text text-rendering="geometricPrecision" x="288.79" y="539.09" font-family="Liberation Sans, sans-serif" font-weight="bold" font-size="4.3" textLength="4.68" lengthAdjust="spacingAndGlyphs" fill="#00ff00" stroke="#00ff00" stroke-width="0.95">84</text>
<rect x="289.09" y="541.19" width="4.08" height="2.46" fill="#00ff00" opacity="0.75"/>
<text text-rendering="geometricPrecision" x="288.79" y="544.05" font-family="Liberation Sans, sans-serif" font-weight="bold" font-size="4.5" textLength="4.68" lengthAdjust="spacingAndGlyphs" fill="#00ff00" stroke="#00ff00" stroke-width="0.95">00</text>
<rect x="317.43" y="541.19" width="3.37" height="2.46" fill="#00ff00" opacity="0.75"/>
<text text-rendering="geometricPrecision" x="317.13" y="544.05" font-family="Liberation Sans, sans-serif" font-weight="bold" font-size="4.5" textLength="3.97" lengthAdjust="spacingAndGlyphs" fill="#00ff00" stroke="#00ff00" stroke-width="0.95">6m</text>
<path d="M347.54 510.2 L349.16 510.2 M347.13 511.7 L349.56 511.7 M348.35 510.2 L348.35 514.2 M350.76 509.7 L350.76 512.2 L350.36 514.2 M350.76 512.2 L351.17 514.2 M350.3 510.7 L350.44 511.2 M351.22 510.7 L351.08 511.2 M351.57 509.45 L352.65 509.45 L352.65 510.45 L351.57 510.45 L351.57 509.45 M351.38 510.95 L351.92 510.95 L351.92 511.95 L351.38 511.95 L351.38 510.95 M352.3 510.95 L352.84 510.95 L352.84 511.95 L352.3 511.95 L352.3 510.95 M351.3 512.7 L352.92 512.7 M352.11 511.95 L352.11 514.2 M352.11 512.7 L351.44 514.2 M352.11 512.7 L352.87 514.2 M353.44 510.7 L354.57 510.7 M354.01 509.2 L354.01 514.2 M354.01 510.7 L353.44 512.7 M354.01 510.95 L354.57 512.2 M354.98 509.7 L354.98 512.95 L354.68 514.2 M354.98 509.7 L355.74 509.7 L355.74 513.95 L356.14 513.95 L356.14 513.2 M356.8 510.45 L359.23 510.45 M357.88 509.2 L356.8 512.7 M357.34 511.7 L357.34 514.2 M357.88 512.2 L359.14 512.2 M358.5 511.1 L358.5 514 M357.74 514 L359.36 514 M360.01 510.2 L360.31 510.8 M359.99 513.7 L360.42 512.35 M361.37 509.2 L360.82 510.7 M361.31 509.8 L362.04 509.8 L361.72 510.7 M360.82 510.95 L362.31 510.95 L362.31 512.95 L360.82 512.95 M360.56 511.95 L362.58 511.95 M361.58 510.7 L361.58 514.2 L361.23 513.9 M363.91 509.2 L363.24 511.45 M363.64 510.7 L363.64 514.2 M365.69 510.2 L364.61 512.05 M364.61 509.45 L364.61 513.95 L365.8 513.95 L365.8 513.2 M368.88 509.7 L366.51 509.7 L366.51 513.95 L368.94 513.95 M367.08 510.7 L368.48 513.2 M368.48 510.7 L367.08 513.2" stroke="#00ff00" stroke-width="0.9" fill="none" stroke-linecap="square"/>
<path d="M354.34 518.65 L356.95 518.65 M355.65 517.3 L354.49 520.54 M354.93 520 L354.93 522.16 M354.93 520 L356.66 520 L356.66 522.16 L356.38 521.94 M355.8 519.19 L355.8 522.7 M358.09 517.57 L360.41 517.57 L360.41 518.65 L358.09 518.65 L358.09 517.57 M358.87 517.57 L358.87 518.65 M359.63 517.57 L359.63 518.65 M357.94 519.35 L360.56 519.35 M359.25 518.65 L359.25 520 M358.61 520 L360 520 L360 522.11 L358.61 522.11 L358.61 520 M358.61 520.7 L360 520.7 M358.61 521.4 L360 521.4 M358.09 520 L358.09 522.7 L360.61 522.7 M361.6 517.57 L364.15 517.57 L364.15 522.7 L361.6 522.7 L361.6 517.57 M362.7 518.11 L362.12 519.73 M362.56 518.76 L363.43 518.76 L362.12 521.08 M362.56 519.57 L363.72 521.08 M362.7 521.08 L363.02 521.46 M362.56 521.84 L363.14 522.27" stroke="#00ff00" stroke-width="0.9" fill="none" stroke-linecap="square"/>
<rect x="346.9" y="527.45" width="7.9" height="2.46" fill="#00ff00" opacity="0.75"/>
<text text-rendering="geometricPrecision" x="346.6" y="530.31" font-family="Liberation Sans, sans-serif" font-weight="bold" font-size="4.5" textLength="8.5" lengthAdjust="spacingAndGlyphs" fill="#00ff00" stroke="#00ff00" stroke-width="0.95">.201</text>
<rect x="364.19" y="527.45" width="2.66" height="2.46" fill="#00ff00" opacity="0.75"/>
<text text-rendering="geometricPrecision" x="363.89" y="530.31" font-family="Liberation Sans, sans-serif" font-weight="bold" font-size="4.5" textLength="3.26" lengthAdjust="spacingAndGlyphs" fill="#00ff00" stroke="#00ff00" stroke-width="0.95">15</text>
<rect x="372.41" y="527.45" width="3.65" height="2.46" fill="#00ff00" opacity="0.75"/>
<text text-rendering="geometricPrecision" x="372.11" y="530.31" font-family="Liberation Sans, sans-serif" font-weight="bold" font-size="4.5" textLength="4.25" lengthAdjust="spacingAndGlyphs" fill="#00ff00" stroke="#00ff00" stroke-width="0.95">78</text>
<rect x="349.45" y="540.49" width="0.68" height="2.03" fill="#00ff00" opacity="0.75"/>
<text text-rendering="geometricPrecision" transform="translate(350.43 542.92) rotate(-90)" x="0" y="0" font-family="Liberation Sans, sans-serif" font-weight="bold" font-size="1.76" textLength="2.83" lengthAdjust="spacingAndGlyphs" fill="#00ff00" stroke="#00ff00" stroke-width="0.42">500</text>
<rect x="353.99" y="540.49" width="1.53" height="2.03" fill="#00ff00" opacity="0.75"/>
<text text-rendering="geometricPrecision" transform="translate(355.81 542.92) rotate(-90)" x="0" y="0" font-family="Liberation Sans, sans-serif" font-weight="bold" font-size="2.93" textLength="2.83" lengthAdjust="spacingAndGlyphs" fill="#00ff00" stroke="#00ff00" stroke-width="0.7">86</text>
<rect x="358.52" y="540.49" width="0.82" height="2.03" fill="#00ff00" opacity="0.75"/>
<text text-rendering="geometricPrecision" transform="translate(359.64 542.92) rotate(-90)" x="0" y="0" font-family="Liberation Sans, sans-serif" font-weight="bold" font-size="1.96" textLength="2.83" lengthAdjust="spacingAndGlyphs" fill="#00ff00" stroke="#00ff00" stroke-width="0.47">3.2</text>
<rect x="363.62" y="540.49" width="1.1" height="2.03" fill="#00ff00" opacity="0.75"/>
<text text-rendering="geometricPrecision" transform="translate(365.02 542.92) rotate(-90)" x="0" y="0" font-family="Liberation Sans, sans-serif" font-weight="bold" font-size="2.35" textLength="2.83" lengthAdjust="spacingAndGlyphs" fill="#00ff00" stroke="#00ff00" stroke-width="0.56">015</text>
<path d="M386.2 523.32 L387.5 523.32 M386.85 521.4 L386.85 527.8 M386.85 523.32 L386.2 525.88 M386.85 523.64 L387.5 525.24 M387.97 522.04 L387.97 526.2 L387.63 527.8 M387.97 522.04 L388.83 522.04 L388.83 527.48 L389.3 527.48 L389.3 526.52 M392.89 522.04 L390.17 522.04 L390.17 527.48 L392.96 527.48 M390.82 523.32 L392.43 526.52 M392.43 523.32 L390.82 526.52 M393.85 523 L396.64 523 M395.25 521.4 L394.01 525.24 M394.47 524.6 L394.47 527.16 M394.47 524.6 L396.33 524.6 L396.33 527.16 L396.02 526.9 M395.4 523.64 L395.4 527.8 M397.76 521.72 L400.24 521.72 L400.24 523 L397.76 523 L397.76 521.72 M398.6 521.72 L398.6 523 M399.4 521.72 L399.4 523 M397.6 523.83 L400.39 523.83 M399 523 L399 524.6 M398.32 524.6 L399.81 524.6 L399.81 527.1 L398.32 527.1 L398.32 524.6 M398.32 525.43 L399.81 525.43 M398.32 526.26 L399.81 526.26 M397.76 524.6 L397.76 527.8 L400.46 527.8 M401.42 521.72 L404.14 521.72 L404.14 527.8 L401.42 527.8 L401.42 521.72 M402.59 522.36 L401.97 524.28 M402.44 523.13 L403.37 523.13 L401.97 525.88 M402.44 524.09 L403.68 525.88 M402.59 525.88 L402.94 526.33 M402.44 526.78 L403.06 527.29" stroke="#00ff00" stroke-width="0.95" fill="none" stroke-linecap="square"/>
<!-- right sheet frame -->
<rect x="493.5" y="181.5" width="411" height="291" stroke="#ffffff" stroke-width="1.2" fill="none"/>
<rect x="503.5" y="191.5" width="391" height="271" stroke="#ffffff" stroke-width="1.2" fill="none"/>
<line x1="699.5" y1="181.5" x2="699.5" y2="197.5" stroke="#ffffff" stroke-width="1.2"/>
<line x1="699.5" y1="455.6" x2="699.5" y2="472.5" stroke="#ffffff" stroke-width="1.2"/>
<line x1="493.5" y1="326.5" x2="508.8" y2="326.5" stroke="#ffffff" stroke-width="1.2"/>
<line x1="894.5" y1="326.5" x2="904.5" y2="326.5" stroke="#ffffff" stroke-width="1.2"/>
<line x1="509.3" y1="359.5" x2="888.1" y2="359.5" stroke="#ffffff" stroke-width="1.23"/>
<!-- feed manifold -->
<rect x="509.5" y="277.5" width="5" height="20" stroke="#ffffff" stroke-width="1.23" fill="none"/>
<rect x="510.7" y="279.1" width="2.7" height="1.8" fill="#00ff00" opacity="0.75"/>
<text text-rendering="geometricPrecision" x="510.4" y="281.3" font-family="Liberation Sans, sans-serif" font-weight="bold" font-size="3.59" textLength="3.3" lengthAdjust="spacingAndGlyphs" fill="#00ff00" stroke="#00ff00" stroke-width="0.86">97</text>
<rect x="510.7" y="283.9" width="2.7" height="1.8" fill="#00ff00" opacity="0.75"/>
<text text-rendering="geometricPrecision" x="510.4" y="286.1" font-family="Liberation Sans, sans-serif" font-weight="bold" font-size="3.59" textLength="3.3" lengthAdjust="spacingAndGlyphs" fill="#00ff00" stroke="#00ff00" stroke-width="0.86">45</text>
<rect x="510.7" y="288.7" width="2.7" height="1.8" fill="#00ff00" opacity="0.75"/>
<text text-rendering="geometricPrecision" x="510.4" y="290.9" font-family="Liberation Sans, sans-serif" font-weight="bold" font-size="3.59" textLength="3.3" lengthAdjust="spacingAndGlyphs" fill="#00ff00" stroke="#00ff00" stroke-width="0.86">08</text>
<rect x="510.7" y="293.5" width="2.7" height="1.8" fill="#00ff00" opacity="0.75"/>
<text text-rendering="geometricPrecision" x="510.4" y="295.7" font-family="Liberation Sans, sans-serif" font-weight="bold" font-size="3.59" textLength="3.3" lengthAdjust="spacingAndGlyphs" fill="#00ff00" stroke="#00ff00" stroke-width="0.86">m3</text>
<line x1="526" y1="277.5" x2="581.8" y2="277.5" stroke="#ffffff" stroke-width="1.34"/>
<line x1="526" y1="282.5" x2="579" y2="282.5" stroke="#ffffff" stroke-width="1.34"/>
<line x1="526" y1="286.5" x2="581.8" y2="286.5" stroke="#ffffff" stroke-width="1.34"/>
<path d="M582.2 275.6 L580 277.5 L582.2 279.4 Z" stroke="#ffffff" stroke-width="0.34" fill="#ffffff"/>
<path d="M579.4 280.6 L577.6 282.5 L579.4 284.2 Z" stroke="#ffffff" stroke-width="0.34" fill="#ffffff"/>
<path d="M582.2 284.6 L580 286.5 L582.2 288.4 Z" stroke="#ffffff" stroke-width="0.34" fill="#ffffff"/>
<path d="M525.8 290.5 L553.5 290.5 L553.5 320.2" stroke="#ffffff" stroke-width="1.23" fill="none"/>
<path d="M525.8 295.5 L538.5 295.5 L538.5 320.2" stroke="#ffffff" stroke-width="1.23" fill="none"/>
<rect x="527.5" y="280.6" width="2.8" height="1.4" fill="#ffffff"/>
<rect x="527.5" y="289.6" width="2.8" height="1.4" fill="#ffffff"/>
<rect x="527.5" y="294.4" width="2.8" height="1.4" fill="#ffffff"/>
<rect x="519.32" y="275.46" width="3.78" height="3.42" fill="#00ff00" opacity="0.75"/>
<text text-rendering="geometricPrecision" x="519.02" y="279.28" font-family="Liberation Sans, sans-serif" font-weight="bold" font-size="5.82" textLength="4.38" lengthAdjust="spacingAndGlyphs" fill="#00ff00" stroke="#00ff00" stroke-width="0.95">20</text>
<rect x="520.45" y="280.82" width="2.65" height="1.63" fill="#00ff00" opacity="0.75"/>
<text text-rendering="geometricPrecision" x="520.15" y="282.85" font-family="Liberation Sans, sans-serif" font-weight="bold" font-size="3.36" textLength="3.25" lengthAdjust="spacingAndGlyphs" fill="#00ff00" stroke="#00ff00" stroke-width="0.81">59</text>
<rect x="516.4" y="285.2" width="5.08" height="2.12" fill="#00ff00" opacity="0.75"/>
<text text-rendering="geometricPrecision" x="516.1" y="287.72" font-family="Liberation Sans, sans-serif" font-weight="bold" font-size="4.03" textLength="5.68" lengthAdjust="spacingAndGlyphs" fill="#00ff00" stroke="#00ff00" stroke-width="0.95">845</text>
<rect x="519.32" y="289.74" width="3.78" height="2.45" fill="#00ff00" opacity="0.75"/>
<text text-rendering="geometricPrecision" x="519.02" y="292.59" font-family="Liberation Sans, sans-serif" font-weight="bold" font-size="4.48" textLength="4.38" lengthAdjust="spacingAndGlyphs" fill="#00ff00" stroke="#00ff00" stroke-width="0.95">00</text>
<rect x="519.64" y="294.28" width="3.46" height="2.77" fill="#00ff00" opacity="0.75"/>
<text text-rendering="geometricPrecision" x="519.34" y="297.45" font-family="Liberation Sans, sans-serif" font-weight="bold" font-size="4.93" textLength="4.06" lengthAdjust="spacingAndGlyphs" fill="#00ff00" stroke="#00ff00" stroke-width="0.95">6m</text>
<rect x="531.32" y="275.14" width="11.25" height="1.63" fill="#00ff00" opacity="0.75"/>
<text text-rendering="geometricPrecision" x="531.02" y="277.17" font-family="Liberation Sans, sans-serif" font-weight="bold" font-size="3.36" textLength="11.85" lengthAdjust="spacingAndGlyphs" fill="#00ff00" stroke="#00ff00" stroke-width="0.81">.201597</text>
<rect x="532.3" y="279.52" width="10.27" height="1.8" fill="#00ff00" opacity="0.75"/>
<text text-rendering="geometricPrecision" x="532" y="281.71" font-family="Liberation Sans, sans-serif" font-weight="bold" font-size="3.58" textLength="10.87" lengthAdjust="spacingAndGlyphs" fill="#00ff00" stroke="#00ff00" stroke-width="0.86">159784</text>
<rect x="533.43" y="284.06" width="11.57" height="1.63" fill="#00ff00" opacity="0.75"/>
<text text-rendering="geometricPrecision" x="533.13" y="286.1" font-family="Liberation Sans, sans-serif" font-weight="bold" font-size="3.36" textLength="12.17" lengthAdjust="spacingAndGlyphs" fill="#00ff00" stroke="#00ff00" stroke-width="0.81">78450086</text>
<rect x="547.23" y="284.06" width="9.46" height="1.63" fill="#00ff00" opacity="0.75"/>
<text text-rendering="geometricPrecision" x="546.93" y="286.1" font-family="Liberation Sans, sans-serif" font-weight="bold" font-size="3.36" textLength="10.06" lengthAdjust="spacingAndGlyphs" fill="#00ff00" stroke="#00ff00" stroke-width="0.81">50086m</text>
<rect x="533.43" y="288.6" width="5.08" height="1.63" fill="#00ff00" opacity="0.75"/>
<text text-rendering="geometricPrecision" x="533.13" y="290.64" font-family="Liberation Sans, sans-serif" font-weight="bold" font-size="3.36" textLength="5.68" lengthAdjust="spacingAndGlyphs" fill="#00ff00" stroke="#00ff00" stroke-width="0.81">86m3</text>
<rect x="533.43" y="293.31" width="5.08" height="1.31" fill="#00ff00" opacity="0.75"/>
<text text-rendering="geometricPrecision" x="533.13" y="295.02" font-family="Liberation Sans, sans-serif" font-weight="bold" font-size="2.91" textLength="5.68" lengthAdjust="spacingAndGlyphs" fill="#00ff00" stroke="#00ff00" stroke-width="0.7">3.20</text>
<rect x="577.25" y="274.32" width="1.83" height="1.31" fill="#00ff00" opacity="0.75"/>
<text text-rendering="geometricPrecision" x="576.95" y="276.03" font-family="Liberation Sans, sans-serif" font-weight="bold" font-size="2.91" textLength="2.43" lengthAdjust="spacingAndGlyphs" fill="#00ff00" stroke="#00ff00" stroke-width="0.7">01</text>
<rect x="578.06" y="283.25" width="1.83" height="1.15" fill="#00ff00" opacity="0.75"/>
<text text-rendering="geometricPrecision" x="577.76" y="284.8" font-family="Liberation Sans, sans-serif" font-weight="bold" font-size="2.69" textLength="2.43" lengthAdjust="spacingAndGlyphs" fill="#00ff00" stroke="#00ff00" stroke-width="0.64">97</text>
<!-- mixing tank -->
<rect x="543.5" y="303.5" width="5" height="17" stroke="#ffffff" stroke-width="1.23" fill="none"/>
<line x1="545.5" y1="305" x2="545.5" y2="313" stroke="#ff0000" stroke-width="1.2" stroke-dasharray="1.2 1.6"/>
<rect x="537.6" y="312" width="2.1" height="5" fill="#ffffff"/>
<rect x="552.3" y="312" width="2.2" height="5" fill="#ffffff"/>
<line x1="538.5" y1="317" x2="538.5" y2="320.5" stroke="#ff0000" stroke-width="1"/>
<line x1="553.5" y1="317" x2="553.5" y2="320.5" stroke="#ff0000" stroke-width="1"/>
<path d="M535.2 322.8 Q536 319.8 541 319.6 L550 319.6 Q555.2 319.8 555.9 322.8" stroke="#ffffff" stroke-width="1.23" fill="none"/>
<rect x="535.5" y="322.5" width="20" height="23" stroke="#ffffff" stroke-width="1.46" fill="none"/>
<path d="M535.8 345.3 Q545.5 350.6 555.3 345.3" stroke="#ffffff" stroke-width="1.23" fill="none"/>
<line x1="536.5" y1="345.3" x2="536.5" y2="359.3" stroke="#ffffff" stroke-width="1.23"/>
<line x1="538.5" y1="346" x2="538.5" y2="359.3" stroke="#ffffff" stroke-width="1.12"/>
<line x1="552.5" y1="346" x2="552.5" y2="359.3" stroke="#ffffff" stroke-width="1.12"/>
<line x1="554.5" y1="345.3" x2="554.5" y2="359.3" stroke="#ffffff" stroke-width="1.23"/>
<line x1="545.5" y1="324.2" x2="545.5" y2="338.8" stroke="#ff0000" stroke-width="1.3"/>
<line x1="546.5" y1="348.5" x2="546.5" y2="359.3" stroke="#ffffff" stroke-width="1.12"/>
<line x1="546.3" y1="353.5" x2="567.2" y2="353.5" stroke="#ffffff" stroke-width="1.12"/>
<rect x="557.4" y="352.4" width="2.6" height="2.2" fill="#ffffff"/>
<rect x="567.5" y="350.5" width="7" height="8" stroke="#ffffff" stroke-width="1.23" fill="none"/>
<circle cx="571" cy="354.6" r="2.6" stroke="#ffffff" stroke-width="1.12" fill="none"/>
<rect x="554.5" y="348.2" width="5.9" height="1.6" fill="#00ff00" opacity="0.75"/>
<text text-rendering="geometricPrecision" x="554.2" y="350.2" font-family="Liberation Sans, sans-serif" font-weight="bold" font-size="3.31" textLength="6.5" lengthAdjust="spacingAndGlyphs" fill="#00ff00" stroke="#00ff00" stroke-width="0.79">4500</text>
<rect x="537.5" y="351.1" width="5.9" height="1.5" fill="#00ff00" opacity="0.75"/>
<text text-rendering="geometricPrecision" x="537.2" y="353" font-family="Liberation Sans, sans-serif" font-weight="bold" font-size="3.17" textLength="6.5" lengthAdjust="spacingAndGlyphs" fill="#00ff00" stroke="#00ff00" stroke-width="0.76">086m</text>
<rect x="536.2" y="362.5" width="7.9" height="3.5" fill="#00ff00" opacity="0.75"/>
<text text-rendering="geometricPrecision" x="535.9" y="366.4" font-family="Liberation Sans, sans-serif" font-weight="bold" font-size="5.93" textLength="8.5" lengthAdjust="spacingAndGlyphs" fill="#00ff00" stroke="#00ff00" stroke-width="0.95">m3.</text>
<rect x="560.5" y="362.5" width="8.7" height="3.5" fill="#00ff00" opacity="0.75"/>
<text text-rendering="geometricPrecision" x="560.2" y="366.4" font-family="Liberation Sans, sans-serif" font-weight="bold" font-size="5.93" textLength="9.3" lengthAdjust="spacingAndGlyphs" fill="#00ff00" stroke="#00ff00" stroke-width="0.95">201</text>
<path d="M571.5 350.5 L571.5 309 Q571.5 306.5 574 306.5 L597 306.5 Q599.5 306.5 599.5 304 L599.5 215 Q599.5 212.5 602 212.5 L652 212.5 Q655 212.5 657 215 Q662 222 672 228.3" stroke="#ffffff" stroke-width="1.23" fill="none"/>
<rect x="570.5" y="329.5" width="2" height="6" stroke="#ffffff" stroke-width="1.12" fill="#ffffff"/>
<!-- heater box -->
<rect x="598.5" y="325.5" width="24" height="34" stroke="#ffffff" stroke-width="1.34" fill="none"/>
<line x1="598.4" y1="351.5" x2="622.7" y2="351.5" stroke="#ffffff" stroke-width="1.23"/>
<circle cx="617.8" cy="334.8" r="2.3" stroke="#ff00ff" stroke-width="1.2" fill="none"/>
<path d="M615.2 341.4 L615.2 338.6 Q615.4 337.2 617 337.2 L620.5 337.2 L620.5 341.4 Z M618.6 333.6 L620.6 332.4" stroke="#ff00ff" stroke-width="1.2" fill="none"/>
<rect x="590.6" y="331.2" width="6.8" height="8.6" fill="#ffffff"/>
<rect x="591.4" y="332" width="1" height="1" fill="#212830"/>
<rect x="595.6" y="338" width="1" height="1" fill="#212830"/>
<line x1="597.4" y1="335.5" x2="598.4" y2="335.5" stroke="#ffffff" stroke-width="1.12"/>
<rect x="601.6" y="316.5" width="9.9" height="2.5" fill="#00ff00" opacity="0.75"/>
<text text-rendering="geometricPrecision" x="601.3" y="319.4" font-family="Liberation Sans, sans-serif" font-weight="bold" font-size="4.55" textLength="10.5" lengthAdjust="spacingAndGlyphs" fill="#00ff00" stroke="#00ff00" stroke-width="0.95">59784</text>
<rect x="601.6" y="323" width="12.4" height="1.6" fill="#00ff00" opacity="0.75"/>
<text text-rendering="geometricPrecision" x="601.3" y="325" font-family="Liberation Sans, sans-serif" font-weight="bold" font-size="3.31" textLength="13" lengthAdjust="spacingAndGlyphs" fill="#00ff00" stroke="#00ff00" stroke-width="0.79">8450086m</text>
<line x1="622.7" y1="335.5" x2="668" y2="335.5" stroke="#ffffff" stroke-width="1.23"/>
<rect x="645.2" y="333" width="3.8" height="5.2" fill="#ffffff"/>
<path d="M649 333.8 L650.9 335.6 L649 337.4 Z" stroke="#ffffff" stroke-width="0.22" fill="#ffffff"/>
<rect x="654.2" y="335.1" width="2.4" height="1.5" fill="#ffffff"/>
<line x1="667.5" y1="333.8" x2="667.5" y2="337.6" stroke="#ffffff" stroke-width="1.12"/>
<path d="M625.5 335.5 L625.5 342.5 Q625.5 344.5 627.5 344.5 L673.7 344.5" stroke="#ffffff" stroke-width="1.23" fill="none"/>
<circle cx="636.3" cy="344.5" r="2.1" stroke="#ffffff" stroke-width="1.12" fill="none"/>
<rect x="634.6" y="346.4" width="3.4" height="2.2" fill="#ffffff"/>
<path d="M650.2 342.4 L652.5 342.4 Q654.8 344.8 652.5 347.2 L650.2 347.2 Z" stroke="#ffffff" stroke-width="1.12" fill="none"/>
<rect x="658.3" y="343.6" width="2.1" height="2.4" fill="#ffffff"/>
<line x1="670.4" y1="344.5" x2="673.7" y2="344.5" stroke="#ff0000" stroke-width="1.3"/>
<line x1="681.8" y1="340.5" x2="683.7" y2="340.5" stroke="#ff0000" stroke-width="1.3"/>
<line x1="671.5" y1="335.5" x2="672.6" y2="335.5" stroke="#ff0000" stroke-width="1.2"/>
<rect x="629.4" y="350.9" width="15.1" height="2.7" fill="#00ff00" opacity="0.75"/>
<text text-rendering="geometricPrecision" x="629.1" y="354" font-family="Liberation Sans, sans-serif" font-weight="bold" font-size="4.83" textLength="15.7" lengthAdjust="spacingAndGlyphs" fill="#00ff00" stroke="#00ff00" stroke-width="0.95">0086m3.</text>
<rect x="653.7" y="350.9" width="15.6" height="2.7" fill="#00ff00" opacity="0.75"/>
<text text-rendering="geometricPrecision" x="653.4" y="354" font-family="Liberation Sans, sans-serif" font-weight="bold" font-size="4.83" textLength="16.2" lengthAdjust="spacingAndGlyphs" fill="#00ff00" stroke="#00ff00" stroke-width="0.95">6m3.201</text>
<rect x="682.4" y="342.3" width="9.2" height="2.3" fill="#00ff00" opacity="0.75"/>
<text text-rendering="geometricPrecision" x="682.1" y="345" font-family="Liberation Sans, sans-serif" font-weight="bold" font-size="4.28" textLength="9.8" lengthAdjust="spacingAndGlyphs" fill="#00ff00" stroke="#00ff00" stroke-width="0.95">.2015</text>
<rect x="682.4" y="346" width="6.8" height="2.4" fill="#00ff00" opacity="0.75"/>
<text text-rendering="geometricPrecision" x="682.1" y="348.8" font-family="Liberation Sans, sans-serif" font-weight="bold" font-size="4.42" textLength="7.4" lengthAdjust="spacingAndGlyphs" fill="#00ff00" stroke="#00ff00" stroke-width="0.95">1597</text>
<rect x="663.1" y="332.2" width="1.4" height="1.1" fill="#00ff00" opacity="0.75"/>
<text text-rendering="geometricPrecision" x="662.8" y="333.7" font-family="Liberation Sans, sans-serif" font-weight="bold" font-size="2.62" textLength="2" lengthAdjust="spacingAndGlyphs" fill="#00ff00" stroke="#00ff00" stroke-width="0.63">78</text>
<!-- feed column devices -->
<circle cx="641.3" cy="219.6" r="2.3" stroke="#ffffff" stroke-width="1.12" fill="none"/>
<rect x="640.3" y="218.6" width="2.1" height="1.8" fill="#00ff00"/>
<line x1="642.2" y1="221.6" x2="643.4" y2="225" stroke="#ffffff" stroke-width="1.12"/>
<path d="M644.6 225.2 L637.5 225.2 Q634.5 225.2 634.5 228.5 L634.5 234 M634.5 243.7 L634.5 249.5 M634.5 257.5 L634.5 266.4" stroke="#ff0000" stroke-width="1.3" fill="none"/>
<path d="M629.2 243.7 L629.2 237 Q629.5 234 634 233.9 Q638.7 234 639 237 L639 243.7 Z" stroke="#ffffff" stroke-width="1.23" fill="none"/>
<rect x="629.4" y="237" width="9.4" height="6.6" fill="#ffffff"/>
<rect x="630.5" y="249.5" width="8" height="8" stroke="#ffffff" stroke-width="1.23" fill="none"/>
<rect x="632" y="252" width="5.4" height="1.6" fill="#ffffff"/>
<path d="M638 251.6 L640 253.5 L638 255.4 Z" stroke="#ffffff" stroke-width="1.12" fill="#ffffff"/>
<line x1="631.6" y1="250.5" x2="637" y2="250.5" stroke="#ffffff" stroke-width="1.01"/>
<line x1="631.6" y1="255.5" x2="637" y2="255.5" stroke="#ffffff" stroke-width="1.01"/>
<rect x="630.5" y="266.5" width="7" height="10" stroke="#ffffff" stroke-width="1.23" fill="none"/>
<line x1="630" y1="268.5" x2="637.8" y2="276.2" stroke="#ffffff" stroke-width="1.01"/>
<line x1="637.8" y1="268.5" x2="630" y2="276.2" stroke="#ffffff" stroke-width="1.01"/>
<rect x="628.2" y="266" width="1.8" height="14.3" fill="#ffffff"/>
<line x1="631.5" y1="271.5" x2="637.5" y2="271.5" stroke="#ff0000" stroke-width="1.1"/>
<line x1="634.5" y1="266.4" x2="634.5" y2="269" stroke="#ff0000" stroke-width="1.2"/>
<line x1="634.5" y1="279.3" x2="634.5" y2="306.4" stroke="#ffffff" stroke-width="1.12"/>
<path d="M628.7 267.5 L616.5 267.5 L616.5 275.5 L612.1 275.5" stroke="#ffffff" stroke-width="1.23" fill="none"/>
<rect x="611.5" y="275.5" width="1" height="4" stroke="#ffffff" stroke-width="1.01" fill="#ffffff"/>
<rect x="613.2" y="273.8" width="2.1" height="2.2" fill="#00ff00"/>
<rect x="623.3" y="273.6" width="3.4" height="2.9" fill="#00ff00" opacity="0.75"/>
<text text-rendering="geometricPrecision" x="623" y="276.9" font-family="Liberation Sans, sans-serif" font-weight="bold" font-size="5.11" textLength="4" lengthAdjust="spacingAndGlyphs" fill="#00ff00" stroke="#00ff00" stroke-width="0.95">50</text>
<line x1="638" y1="286.5" x2="642.6" y2="286.5" stroke="#ffffff" stroke-width="1.12"/>
<line x1="638.5" y1="284.6" x2="638.5" y2="288.5" stroke="#ffffff" stroke-width="1.12"/>
<line x1="642.5" y1="284.6" x2="642.5" y2="288.5" stroke="#ffffff" stroke-width="1.12"/>
<rect x="638.1" y="283.2" width="1.5" height="1.1" fill="#00ff00" opacity="0.75"/>
<text text-rendering="geometricPrecision" x="637.8" y="284.7" font-family="Liberation Sans, sans-serif" font-weight="bold" font-size="2.62" textLength="2.1" lengthAdjust="spacingAndGlyphs" fill="#00ff00" stroke="#00ff00" stroke-width="0.63">86</text>
<path d="M630 292 L637.8 292 M630 302.3 L637.8 302.3 M630.8 292 L637 297 L630.8 302.3 M637 292 L630.8 297 L637 302.3" stroke="#ffffff" stroke-width="1.12" fill="none"/>
<line x1="632" y1="297" x2="636" y2="297" stroke="#ffffff" stroke-width="2.02"/>
<path d="M629.4 314.5 L629.4 309 Q629.8 306.5 634 306.4 Q638.2 306.5 638.6 309 L638.6 314.5 Z" stroke="#ffffff" stroke-width="1.23" fill="none"/>
<rect x="629.6" y="309" width="8.8" height="5.4" fill="#ffffff"/>
<line x1="634.5" y1="302.3" x2="634.5" y2="306.4" stroke="#ffffff" stroke-width="1.12"/>
<rect x="616.5" y="227.5" width="9.9" height="2.8" fill="#00ff00" opacity="0.75"/>
<text text-rendering="geometricPrecision" x="616.2" y="230.7" font-family="Liberation Sans, sans-serif" font-weight="bold" font-size="4.97" textLength="10.5" lengthAdjust="spacingAndGlyphs" fill="#00ff00" stroke="#00ff00" stroke-width="0.95">3.20</text>
<rect x="615.3" y="245.7" width="9.1" height="2.9" fill="#00ff00" opacity="0.75"/>
<text text-rendering="geometricPrecision" x="615" y="249" font-family="Liberation Sans, sans-serif" font-weight="bold" font-size="5.11" textLength="9.7" lengthAdjust="spacingAndGlyphs" fill="#00ff00" stroke="#00ff00" stroke-width="0.95">0159</text>
<rect x="611.2" y="260.9" width="10.7" height="2.8" fill="#00ff00" opacity="0.75"/>
<text text-rendering="geometricPrecision" x="610.9" y="264.1" font-family="Liberation Sans, sans-serif" font-weight="bold" font-size="4.97" textLength="11.3" lengthAdjust="spacingAndGlyphs" fill="#00ff00" stroke="#00ff00" stroke-width="0.95">97845</text>
<rect x="617.3" y="295.4" width="7.2" height="3" fill="#00ff00" opacity="0.75"/>
<text text-rendering="geometricPrecision" x="617" y="298.8" font-family="Liberation Sans, sans-serif" font-weight="bold" font-size="5.24" textLength="7.8" lengthAdjust="spacingAndGlyphs" fill="#00ff00" stroke="#00ff00" stroke-width="0.95">450</text>
<rect x="611.3" y="303.5" width="12.4" height="3" fill="#00ff00" opacity="0.75"/>
<text text-rendering="geometricPrecision" x="611" y="306.9" font-family="Liberation Sans, sans-serif" font-weight="bold" font-size="5.24" textLength="13" lengthAdjust="spacingAndGlyphs" fill="#00ff00" stroke="#00ff00" stroke-width="0.95">086m3</text>
<!-- spray dryer -->
<rect x="645.5" y="230.5" width="58" height="58" stroke="#ffffff" stroke-width="1.23" fill="none"/>
<path d="M647.5 286.3 L647.5 233.5 L701.5 233.5 L701.5 286.3" stroke="#ffffff" stroke-width="1.23" fill="none"/>
<line x1="645.2" y1="286.5" x2="703.9" y2="286.5" stroke="#ffffff" stroke-width="1.23"/>
<rect x="645.5" y="220.5" width="43" height="10" stroke="#ffffff" stroke-width="1.23" fill="none"/>
<line x1="643.5" y1="220.5" x2="643.5" y2="230.2" stroke="#ffffff" stroke-width="1.12"/>
<line x1="645.8" y1="288.3" x2="673.7" y2="337.5" stroke="#ffffff" stroke-width="1.23"/>
<line x1="703.7" y1="288.3" x2="680.2" y2="331" stroke="#ffffff" stroke-width="1.23"/>
<line x1="647.7" y1="286.7" x2="662.6" y2="316.9" stroke="#ff00ff" stroke-width="1.2"/>
<line x1="701.6" y1="286.7" x2="686.7" y2="316.9" stroke="#ff00ff" stroke-width="1.2"/>
<line x1="661.5" y1="317.5" x2="687.5" y2="317.5" stroke="#ffffff" stroke-width="1.23"/>
<rect x="672.5" y="334.5" width="5" height="7" stroke="#ffffff" stroke-width="1.23" fill="none"/>
<rect x="676.5" y="329.5" width="5" height="6" stroke="#ffffff" stroke-width="1.23" fill="none"/>
<line x1="673.5" y1="217.2" x2="673.5" y2="223.4" stroke="#ff0000" stroke-width="1.1"/>
<line x1="675.5" y1="217.2" x2="675.5" y2="223.4" stroke="#ff0000" stroke-width="1.1"/>
<rect x="672.5" y="223.5" width="4" height="3" stroke="#ffffff" stroke-width="1.12" fill="none"/>
<path d="M672 226.5 L677 226.5 L677.5 229 L676 232 L676 238 M673 232 L673 238 M672 226.5 L671.5 229 L673 232" stroke="#ffffff" stroke-width="1.12" fill="none"/>
<line x1="669.5" y1="228.5" x2="680" y2="228.5" stroke="#ffffff" stroke-width="1.12"/>
<line x1="669.5" y1="238.5" x2="680" y2="238.5" stroke="#ffffff" stroke-width="1.12"/>
<line x1="674.5" y1="234.5" x2="674.5" y2="238.6" stroke="#ff0000" stroke-width="1.1"/>
<rect x="671.5" y="250.5" width="7" height="12" stroke="#ffffff" stroke-width="1.23" fill="none"/>
<path d="M674.9 254.4 L676.8 256.5 L674.9 258.6 L673 256.5 Z" stroke="#ffffff" stroke-width="1.12" fill="none"/>
<rect x="668.5" y="208.1" width="7.2" height="2.7" fill="#00ff00" opacity="0.75"/>
<text text-rendering="geometricPrecision" x="668.2" y="211.2" font-family="Liberation Sans, sans-serif" font-weight="bold" font-size="4.83" textLength="7.8" lengthAdjust="spacingAndGlyphs" fill="#00ff00" stroke="#00ff00" stroke-width="0.95">m3.</text>
<rect x="657.3" y="242.4" width="7.5" height="2.2" fill="#00ff00" opacity="0.75"/>
<text text-rendering="geometricPrecision" x="657" y="245" font-family="Liberation Sans, sans-serif" font-weight="bold" font-size="4.14" textLength="8.1" lengthAdjust="spacingAndGlyphs" fill="#00ff00" stroke="#00ff00" stroke-width="0.95">2015</text>
<line x1="703.9" y1="275.7" x2="707" y2="276.6" stroke="#ffffff" stroke-width="1.12"/>
<circle cx="709.3" cy="276.9" r="2.3" stroke="#ffffff" stroke-width="1.12" fill="none"/>
<rect x="708.6" y="276" width="1.8" height="1.8" fill="#00ff00"/>
<path d="M681.5 332.5 L690 332.5 Q693 332.5 694.8 329.3 L719.4 282.5 L728.9 282.5" stroke="#ffffff" stroke-width="1.23" fill="none"/>
<circle cx="721.9" cy="276.1" r="2.3" stroke="#ffffff" stroke-width="1.12" fill="none"/>
<rect x="720.9" y="275.2" width="2" height="1.8" fill="#00ff00"/>
<line x1="721.5" y1="278.4" x2="721.5" y2="282.6" stroke="#ffffff" stroke-width="1.12"/>
<!-- cyclone 1 -->
<rect x="731.5" y="270.5" width="9" height="7" stroke="#ffffff" stroke-width="1.23" fill="none"/>
<rect x="734.5" y="271.3" width="3.5" height="5.7" fill="#ffffff"/>
<rect x="728.5" y="277.5" width="10" height="16" stroke="#ffffff" stroke-width="1.23" fill="none"/>
<path d="M728.9 293.7 L731.5 318.5 L737 318.5 L738.6 293.7" stroke="#ffffff" stroke-width="1.23" fill="none"/>
<rect x="729.5" y="318.5" width="8" height="4" stroke="#ffffff" stroke-width="1.12" fill="none"/>
<rect x="731.3" y="319.1" width="5.5" height="2.9" fill="#ffffff"/>
<path d="M729.7 319.5 L727.5 319.5 L727.5 335.5 L719.1 335.5" stroke="#ffffff" stroke-width="1.23" fill="none"/>
<rect x="718.5" y="334.5" width="2" height="4" stroke="#ffffff" stroke-width="1.01" fill="#ffffff"/>
<rect x="719.9" y="332.2" width="1.7" height="1.1" fill="#00ff00" opacity="0.75"/>
<text text-rendering="geometricPrecision" x="719.6" y="333.7" font-family="Liberation Sans, sans-serif" font-weight="bold" font-size="2.62" textLength="2.3" lengthAdjust="spacingAndGlyphs" fill="#00ff00" stroke="#00ff00" stroke-width="0.63">59</text>
<rect x="729.2" y="323.8" width="4.5" height="2.7" fill="#00ff00" opacity="0.75"/>
<text text-rendering="geometricPrecision" x="728.9" y="326.9" font-family="Liberation Sans, sans-serif" font-weight="bold" font-size="4.83" textLength="5.1" lengthAdjust="spacingAndGlyphs" fill="#00ff00" stroke="#00ff00" stroke-width="0.95">84</text>
<rect x="723.3" y="263.6" width="9.5" height="3.2" fill="#00ff00" opacity="0.75"/>
<text text-rendering="geometricPrecision" x="723" y="267.2" font-family="Liberation Sans, sans-serif" font-weight="bold" font-size="5.52" textLength="10.1" lengthAdjust="spacingAndGlyphs" fill="#00ff00" stroke="#00ff00" stroke-width="0.95">0086</text>
<path d="M740.9 274.5 L768.5 274.5 Q771.5 274.5 771.5 277.5 L771.5 292.5 Q771.5 295.5 774.5 295.5 L785 295.5" stroke="#ffffff" stroke-width="1.23" fill="none"/>
<path d="M737.8 321.5 L746.5 321.5 L746.5 313.5 L750.8 313.5" stroke="#ffffff" stroke-width="1.23" fill="none"/>
<rect x="740.5" y="320.8" width="2.5" height="1.8" fill="#ffffff"/>
<!-- cyclone 2 -->
<rect x="754.5" y="308.5" width="4" height="3" stroke="#ffffff" stroke-width="1.12" fill="none"/>
<rect x="750.5" y="311.5" width="9" height="4" stroke="#ffffff" stroke-width="1.23" fill="none"/>
<rect x="752" y="312.4" width="4" height="2.4" fill="#ffffff"/>
<rect x="752.5" y="315.5" width="8" height="7" stroke="#ffffff" stroke-width="1.23" fill="none"/>
<path d="M752.4 322 L754 330.5 L758.9 330.5 L760 322" stroke="#ffffff" stroke-width="1.23" fill="none"/>
<circle cx="755.8" cy="334.2" r="3.6" stroke="#00ff00" stroke-width="1.3" fill="none"/>
<line x1="751" y1="334.5" x2="752.5" y2="334.5" stroke="#00ff00" stroke-width="1.2"/>
<line x1="754" y1="335.5" x2="758.9" y2="335.5" stroke="#ff0000" stroke-width="1.3"/>
<rect x="754.3" y="332.8" width="4.2" height="1.9" fill="#ffffff"/>
<rect x="753.5" y="337.5" width="6" height="13" stroke="#ffffff" stroke-width="1.23" fill="none"/>
<line x1="758.4" y1="309.5" x2="768.2" y2="309.5" stroke="#ffffff" stroke-width="1.23"/>
<circle cx="771.1" cy="310.6" r="2.9" stroke="#ffffff" stroke-width="1.12" fill="none"/>
<line x1="769.2" y1="308.6" x2="773" y2="312.6" stroke="#ffffff" stroke-width="1.01"/>
<line x1="773" y1="308.6" x2="769.2" y2="312.6" stroke="#ffffff" stroke-width="1.01"/>
<line x1="774" y1="309.5" x2="794" y2="309.5" stroke="#ffffff" stroke-width="1.23"/>
<rect x="779" y="308.4" width="2" height="1.8" fill="#ffffff"/>
<rect x="744.6" y="301.4" width="7.5" height="3.2" fill="#00ff00" opacity="0.75"/>
<text text-rendering="geometricPrecision" x="744.3" y="305" font-family="Liberation Sans, sans-serif" font-weight="bold" font-size="5.52" textLength="8.1" lengthAdjust="spacingAndGlyphs" fill="#00ff00" stroke="#00ff00" stroke-width="0.95">6m3</text>
<rect x="766.5" y="316.4" width="5.9" height="2.9" fill="#00ff00" opacity="0.75"/>
<text text-rendering="geometricPrecision" x="766.2" y="319.7" font-family="Liberation Sans, sans-serif" font-weight="bold" font-size="5.11" textLength="6.5" lengthAdjust="spacingAndGlyphs" fill="#00ff00" stroke="#00ff00" stroke-width="0.95">.20</text>
<rect x="762.4" y="332.2" width="4.3" height="2.1" fill="#00ff00" opacity="0.75"/>
<text text-rendering="geometricPrecision" x="762.1" y="334.7" font-family="Liberation Sans, sans-serif" font-weight="bold" font-size="4" textLength="4.9" lengthAdjust="spacingAndGlyphs" fill="#00ff00" stroke="#00ff00" stroke-width="0.95">159</text>
<rect x="761.3" y="339.2" width="4.3" height="2.3" fill="#00ff00" opacity="0.75"/>
<text text-rendering="geometricPrecision" x="761" y="341.9" font-family="Liberation Sans, sans-serif" font-weight="bold" font-size="4.28" textLength="4.9" lengthAdjust="spacingAndGlyphs" fill="#00ff00" stroke="#00ff00" stroke-width="0.95">78</text>
<!-- bag filter -->
<path d="M785.5 290.5 L785.5 228 Q785.5 225.5 788 225.5 L820 225.5 Q822.5 225.5 822.5 228 L822.5 290.5 Z" stroke="#ffffff" stroke-width="1.34" fill="none"/>
<line x1="785.5" y1="237.5" x2="822.3" y2="237.5" stroke="#ffffff" stroke-width="1.34"/>
<line x1="785.5" y1="290.5" x2="801.2" y2="326.2" stroke="#ffffff" stroke-width="1.23"/>
<line x1="822.3" y1="290.5" x2="806.1" y2="326.2" stroke="#ffffff" stroke-width="1.23"/>
<rect x="800.5" y="326.5" width="6" height="14" stroke="#ffffff" stroke-width="1.23" fill="none"/>
<line x1="800.5" y1="326.5" x2="806.5" y2="326.5" stroke="#ff0000" stroke-width="1.3"/>
<line x1="803.5" y1="328.5" x2="803.5" y2="339.5" stroke="#ff0000" stroke-width="1.4"/>
<rect x="784.5" y="292.5" width="2" height="6" stroke="#ffffff" stroke-width="1.12" fill="none"/>
<rect x="822.5" y="228.5" width="3" height="6" stroke="#ffffff" stroke-width="1.12" fill="#ffffff"/>
<path d="M825.1 231.5 L831.5 231.5 Q834.5 231.5 834.5 234.5 L834.5 328.5 Q834.5 331.5 837.5 331.5 L843.4 331.5" stroke="#ffffff" stroke-width="1.23" fill="none"/>
<line x1="777.7" y1="234.9" x2="785.5" y2="234.9" stroke="#ffffff" stroke-width="1.57"/>
<line x1="777.7" y1="243" x2="785.5" y2="243" stroke="#ffffff" stroke-width="1.57"/>
<line x1="778.5" y1="235.5" x2="782.5" y2="242.5" stroke="#ffffff" stroke-width="1.01"/>
<line x1="782.5" y1="235.5" x2="778.5" y2="242.5" stroke="#ffffff" stroke-width="1.01"/>
<path d="M780.5 243.8 L780.5 287.5 L778.5 287.5 L778.5 285" stroke="#ffffff" stroke-width="1.23" fill="none"/>
<rect x="781.3" y="283.5" width="1.3" height="1" fill="#00ff00" opacity="0.75"/>
<text text-rendering="geometricPrecision" x="781" y="284.9" font-family="Liberation Sans, sans-serif" font-weight="bold" font-size="2.48" textLength="1.9" lengthAdjust="spacingAndGlyphs" fill="#00ff00" stroke="#00ff00" stroke-width="0.6">50</text>
<rect x="790.5" y="263.7" width="13.2" height="3.2" fill="#00ff00" opacity="0.75"/>
<text text-rendering="geometricPrecision" x="790.2" y="267.3" font-family="Liberation Sans, sans-serif" font-weight="bold" font-size="5.52" textLength="13.8" lengthAdjust="spacingAndGlyphs" fill="#00ff00" stroke="#00ff00" stroke-width="0.95">86m3.</text>
<!-- fan -->
<circle cx="851.6" cy="331.6" r="8.9" stroke="#ffffff" stroke-width="1.34" fill="none"/>
<circle cx="851.6" cy="331.6" r="3" stroke="#ffffff" stroke-width="1.12" fill="none"/>
<path d="M855 323.5 L861.5 323.5 L861.5 335" stroke="#ffffff" stroke-width="1.23" fill="none"/>
<line x1="848.8" y1="331.5" x2="854.4" y2="331.5" stroke="#ff0000" stroke-width="1.3"/>
<line x1="851.5" y1="328.8" x2="851.5" y2="334.4" stroke="#ff0000" stroke-width="1.3"/>
<line x1="858.5" y1="323.4" x2="858.5" y2="306" stroke="#ffffff" stroke-width="1.23"/>
<path d="M857.6 314.9 L857.6 310 L859 306.5 L860.5 310 L860.5 314.9 Z" stroke="#ffffff" stroke-width="1.01" fill="#ffffff"/>
<path d="M846 339 L844.5 342.5 L858.5 342.5 L857 339" stroke="#ffffff" stroke-width="1.23" fill="none"/>
<rect x="849" y="340" width="5.5" height="1.4" fill="#ffffff"/>
<rect x="842.5" y="342.5" width="18" height="16" stroke="#ffffff" stroke-width="1.46" fill="none"/>
<rect x="843.5" y="344.5" width="15" height="11" stroke="#ffffff" stroke-width="1.23" fill="none"/>
<line x1="868.6" y1="354.5" x2="892.9" y2="354.5" stroke="#ffffff" stroke-width="1.23"/>
<path d="M869.9 354.6 L874.5 359 L879.1 354.6" stroke="#ffffff" stroke-width="1.12" fill="none"/>
<rect x="870.2" y="346.6" width="21.1" height="4.4" fill="#00ff00" opacity="0.55"/>
<text text-rendering="geometricPrecision" x="869.9" y="351.4" font-family="Liberation Sans, sans-serif" font-weight="bold" font-size="7.18" textLength="21.7" lengthAdjust="spacingAndGlyphs" fill="#00ff00" stroke="#00ff00" stroke-width="0.95">±0.00m</text>
<rect x="862.4" y="301.5" width="4.3" height="3.3" fill="#00ff00" opacity="0.75"/>
<text text-rendering="geometricPrecision" x="862.1" y="305.2" font-family="Liberation Sans, sans-serif" font-weight="bold" font-size="5.66" textLength="4.9" lengthAdjust="spacingAndGlyphs" fill="#00ff00" stroke="#00ff00" stroke-width="0.95">3.</text>
<rect x="863.7" y="314.5" width="7" height="3.2" fill="#00ff00" opacity="0.75"/>
<text text-rendering="geometricPrecision" x="863.4" y="318.1" font-family="Liberation Sans, sans-serif" font-weight="bold" font-size="5.52" textLength="7.6" lengthAdjust="spacingAndGlyphs" fill="#00ff00" stroke="#00ff00" stroke-width="0.95">015</text>
<!-- notes -->
<rect x="555.3" y="386.6" width="7.4" height="3.8" fill="#00ff00" opacity="0.55"/>
<text text-rendering="geometricPrecision" x="555" y="390.8" font-family="Liberation Sans, sans-serif" font-weight="bold" font-size="6.35" textLength="8" lengthAdjust="spacingAndGlyphs" fill="#00ff00" stroke="#00ff00" stroke-width="0.95">978</text>
<rect x="556.2" y="394.6" width="19.8" height="4.3" fill="#00ff00" opacity="0.55"/>
<text text-rendering="geometricPrecision" x="555.9" y="399.3" font-family="Liberation Sans, sans-serif" font-weight="bold" font-size="7.04" textLength="20.4" lengthAdjust="spacingAndGlyphs" fill="#00ff00" stroke="#00ff00" stroke-width="0.95">450086</text>
<rect x="556.2" y="403.1" width="19.8" height="4.3" fill="#00ff00" opacity="0.55"/>
<text text-rendering="geometricPrecision" x="555.9" y="407.8" font-family="Liberation Sans, sans-serif" font-weight="bold" font-size="7.04" textLength="20.4" lengthAdjust="spacingAndGlyphs" fill="#00ff00" stroke="#00ff00" stroke-width="0.95">086m3.</text>
<rect x="556.2" y="410.9" width="23.6" height="4.9" fill="#00ff00" opacity="0.3"/>
<text text-rendering="geometricPrecision" x="555.9" y="416.2" font-family="Liberation Sans, sans-serif" font-weight="bold" font-size="7.87" textLength="24.2" lengthAdjust="spacingAndGlyphs" fill="#00ff00" stroke="#00ff00" stroke-width="0.95">m3.201</text>
<!-- title block right -->
<rect x="737.5" y="413.5" width="157" height="49" stroke="#ffffff" stroke-width="1.32" fill="none"/>
<line x1="737.5" y1="419.5" x2="807.5" y2="419.5" stroke="#ffffff" stroke-width="1.32"/>
<line x1="737.5" y1="425.5" x2="807.5" y2="425.5" stroke="#ffffff" stroke-width="1.32"/>
<line x1="737.5" y1="431.5" x2="807.5" y2="431.5" stroke="#ffffff" stroke-width="1.32"/>
<line x1="737.5" y1="437.5" x2="807.5" y2="437.5" stroke="#ffffff" stroke-width="1.32"/>
<line x1="737.5" y1="444.5" x2="807.5" y2="444.5" stroke="#ffffff" stroke-width="1.32"/>
<line x1="737.5" y1="450.5" x2="807.5" y2="450.5" stroke="#ffffff" stroke-width="1.32"/>
<line x1="737.5" y1="456.5" x2="807.5" y2="456.5" stroke="#ffffff" stroke-width="1.32"/>
<line x1="745.5" y1="413.5" x2="745.5" y2="437.5" stroke="#ffffff" stroke-width="1.32"/>
<line x1="754.5" y1="413.5" x2="754.5" y2="437.5" stroke="#ffffff" stroke-width="1.32"/>
<line x1="768.5" y1="413.5" x2="768.5" y2="437.5" stroke="#ffffff" stroke-width="1.32"/>
<line x1="747.5" y1="437.5" x2="747.5" y2="462.5" stroke="#ffffff" stroke-width="1.32"/>
<line x1="758.5" y1="437.5" x2="758.5" y2="462.5" stroke="#ffffff" stroke-width="1.32"/>
<line x1="772.5" y1="437.5" x2="772.5" y2="462.5" stroke="#ffffff" stroke-width="1.32"/>
<line x1="782.5" y1="413.5" x2="782.5" y2="462.5" stroke="#ffffff" stroke-width="1.32"/>
<line x1="793.5" y1="413.5" x2="793.5" y2="462.5" stroke="#ffffff" stroke-width="1.32"/>
<line x1="807.5" y1="413.5" x2="807.5" y2="462.5" stroke="#ffffff" stroke-width="1.44"/>
<line x1="851.5" y1="413.5" x2="851.5" y2="462.5" stroke="#ffffff" stroke-width="1.44"/>
<line x1="807.5" y1="437.5" x2="851.5" y2="437.5" stroke="#ffffff" stroke-width="1.32"/>
<line x1="807.5" y1="446.5" x2="851.5" y2="446.5" stroke="#ffffff" stroke-width="1.32"/>
<line x1="807.5" y1="454.5" x2="851.5" y2="454.5" stroke="#ffffff" stroke-width="1.32"/>
<line x1="829.5" y1="437.5" x2="829.5" y2="454.5" stroke="#ffffff" stroke-width="1.32"/>
<line x1="840.5" y1="437.5" x2="840.5" y2="454.5" stroke="#ffffff" stroke-width="1.32"/>
<line x1="812.5" y1="446.5" x2="812.5" y2="454.5" stroke="#ffffff" stroke-width="1.32"/>
<line x1="818.5" y1="446.5" x2="818.5" y2="454.5" stroke="#ffffff" stroke-width="1.32"/>
<line x1="824.5" y1="446.5" x2="824.5" y2="454.5" stroke="#ffffff" stroke-width="1.32"/>
<line x1="851.5" y1="429.5" x2="894.5" y2="429.5" stroke="#ffffff" stroke-width="1.32"/>
<line x1="851.5" y1="446.5" x2="894.5" y2="446.5" stroke="#ffffff" stroke-width="1.32"/>
<rect x="739.34" y="433.48" width="3.63" height="2.28" fill="#00ff00" opacity="0.75"/>
<text text-rendering="geometricPrecision" x="739.04" y="436.15" font-family="Liberation Sans, sans-serif" font-weight="bold" font-size="4.25" textLength="4.23" lengthAdjust="spacingAndGlyphs" fill="#00ff00" stroke="#00ff00" stroke-width="0.95">20</text>
<rect x="747.99" y="433.48" width="2.67" height="2.28" fill="#00ff00" opacity="0.75"/>
<text text-rendering="geometricPrecision" x="747.69" y="436.15" font-family="Liberation Sans, sans-serif" font-weight="bold" font-size="4.25" textLength="3.27" lengthAdjust="spacingAndGlyphs" fill="#00ff00" stroke="#00ff00" stroke-width="0.95">59</text>
<rect x="758.38" y="433.48" width="4.21" height="2.28" fill="#00ff00" opacity="0.75"/>
<text text-rendering="geometricPrecision" x="758.08" y="436.15" font-family="Liberation Sans, sans-serif" font-weight="bold" font-size="4.25" textLength="4.81" lengthAdjust="spacingAndGlyphs" fill="#00ff00" stroke="#00ff00" stroke-width="0.95">84</text>
<rect x="770.11" y="433.48" width="7.48" height="2.28" fill="#00ff00" opacity="0.75"/>
<text text-rendering="geometricPrecision" x="769.81" y="436.15" font-family="Liberation Sans, sans-serif" font-weight="bold" font-size="4.25" textLength="8.08" lengthAdjust="spacingAndGlyphs" fill="#00ff00" stroke="#00ff00" stroke-width="0.95">0086</text>
<rect x="785.3" y="433.48" width="3.25" height="2.28" fill="#00ff00" opacity="0.75"/>
<text text-rendering="geometricPrecision" x="785" y="436.15" font-family="Liberation Sans, sans-serif" font-weight="bold" font-size="4.25" textLength="3.85" lengthAdjust="spacingAndGlyphs" fill="#00ff00" stroke="#00ff00" stroke-width="0.95">6m</text>
<rect x="794.53" y="433.48" width="7.09" height="2.28" fill="#00ff00" opacity="0.75"/>
<text text-rendering="geometricPrecision" x="794.23" y="436.15" font-family="Liberation Sans, sans-serif" font-weight="bold" font-size="4.25" textLength="7.69" lengthAdjust="spacingAndGlyphs" fill="#00ff00" stroke="#00ff00" stroke-width="0.95">.201</text>
<rect x="739.34" y="439.44" width="4.59" height="2.08" fill="#00ff00" opacity="0.75"/>
<text text-rendering="geometricPrecision" x="739.04" y="441.92" font-family="Liberation Sans, sans-serif" font-weight="bold" font-size="3.98" textLength="5.19" lengthAdjust="spacingAndGlyphs" fill="#00ff00" stroke="#00ff00" stroke-width="0.95">159</text>
<rect x="774.34" y="439.44" width="4.59" height="2.08" fill="#00ff00" opacity="0.75"/>
<text text-rendering="geometricPrecision" x="774.04" y="441.92" font-family="Liberation Sans, sans-serif" font-weight="bold" font-size="3.98" textLength="5.19" lengthAdjust="spacingAndGlyphs" fill="#00ff00" stroke="#00ff00" stroke-width="0.95">784</text>
<rect x="739.34" y="451.36" width="3.25" height="2.08" fill="#00ff00" opacity="0.75"/>
<text text-rendering="geometricPrecision" x="739.04" y="453.85" font-family="Liberation Sans, sans-serif" font-weight="bold" font-size="3.98" textLength="3.85" lengthAdjust="spacingAndGlyphs" fill="#00ff00" stroke="#00ff00" stroke-width="0.95">50</text>
<rect x="739.34" y="457.52" width="3.25" height="2.08" fill="#00ff00" opacity="0.75"/>
<text text-rendering="geometricPrecision" x="739.04" y="460" font-family="Liberation Sans, sans-serif" font-weight="bold" font-size="3.98" textLength="3.85" lengthAdjust="spacingAndGlyphs" fill="#00ff00" stroke="#00ff00" stroke-width="0.95">86</text>
<rect x="774.34" y="457.52" width="4.59" height="2.08" fill="#00ff00" opacity="0.75"/>
<text text-rendering="geometricPrecision" x="774.04" y="460" font-family="Liberation Sans, sans-serif" font-weight="bold" font-size="3.98" textLength="5.19" lengthAdjust="spacingAndGlyphs" fill="#00ff00" stroke="#00ff00" stroke-width="0.95">3.2</text>
<rect x="812.42" y="440.4" width="8.05" height="1.89" fill="#00ff00" opacity="0.75"/>
<text text-rendering="geometricPrecision" x="812.12" y="442.69" font-family="Liberation Sans, sans-serif" font-weight="bold" font-size="3.72" textLength="8.65" lengthAdjust="spacingAndGlyphs" fill="#00ff00" stroke="#00ff00" stroke-width="0.89">01597</text>
<rect x="832.42" y="440.4" width="3.25" height="1.89" fill="#00ff00" opacity="0.75"/>
<text text-rendering="geometricPrecision" x="832.12" y="442.69" font-family="Liberation Sans, sans-serif" font-weight="bold" font-size="3.72" textLength="3.85" lengthAdjust="spacingAndGlyphs" fill="#00ff00" stroke="#00ff00" stroke-width="0.89">97</text>
<rect x="843.18" y="440.4" width="3.25" height="1.89" fill="#00ff00" opacity="0.75"/>
<text text-rendering="geometricPrecision" x="842.88" y="442.69" font-family="Liberation Sans, sans-serif" font-weight="bold" font-size="3.72" textLength="3.85" lengthAdjust="spacingAndGlyphs" fill="#00ff00" stroke="#00ff00" stroke-width="0.89">45</text>
<rect x="814.72" y="456.55" width="0.75" height="2.66" fill="#00ff00" opacity="0.75"/>
<text text-rendering="geometricPrecision" transform="translate(815.77 459.62) rotate(-90)" x="0" y="0" font-family="Liberation Sans, sans-serif" font-weight="bold" font-size="1.86" textLength="3.46" lengthAdjust="spacingAndGlyphs" fill="#00ff00" stroke="#00ff00" stroke-width="0.45">086m</text>
<rect x="819.53" y="456.55" width="1.32" height="2.66" fill="#00ff00" opacity="0.75"/>
<text text-rendering="geometricPrecision" transform="translate(821.15 459.62) rotate(-90)" x="0" y="0" font-family="Liberation Sans, sans-serif" font-weight="bold" font-size="2.65" textLength="3.46" lengthAdjust="spacingAndGlyphs" fill="#00ff00" stroke="#00ff00" stroke-width="0.64">m3.</text>
<rect x="825.3" y="456.55" width="2.28" height="2.66" fill="#00ff00" opacity="0.75"/>
<text text-rendering="geometricPrecision" transform="translate(827.88 459.62) rotate(-90)" x="0" y="0" font-family="Liberation Sans, sans-serif" font-weight="bold" font-size="3.98" textLength="3.46" lengthAdjust="spacingAndGlyphs" fill="#00ff00" stroke="#00ff00" stroke-width="0.95">20</text>
<rect x="831.45" y="456.55" width="0.94" height="2.66" fill="#00ff00" opacity="0.75"/>
<text text-rendering="geometricPrecision" transform="translate(832.69 459.62) rotate(-90)" x="0" y="0" font-family="Liberation Sans, sans-serif" font-weight="bold" font-size="2.12" textLength="3.46" lengthAdjust="spacingAndGlyphs" fill="#00ff00" stroke="#00ff00" stroke-width="0.51">597</text>
<path d="M856.06 434.66 L858.04 434.66 M855.56 436.7 L858.53 436.7 M857.05 434.66 L857.05 440.1 M860.16 433.98 L860.16 437.38 L859.66 440.1 M860.16 437.38 L860.65 440.1 M859.6 435.34 L859.76 436.02 M860.72 435.34 L860.56 436.02 M861.15 433.64 L862.47 433.64 L862.47 435 L861.15 435 L861.15 433.64 M860.92 435.68 L861.58 435.68 L861.58 437.04 L860.92 437.04 L860.92 435.68 M862.04 435.68 L862.7 435.68 L862.7 437.04 L862.04 437.04 L862.04 435.68 M860.82 438.06 L862.8 438.06 M861.81 437.04 L861.81 440.1 M861.81 438.06 L860.99 440.1 M861.81 438.06 L862.73 440.1 M863.6 435.34 L864.99 435.34 M864.29 433.3 L864.29 440.1 M864.29 435.34 L863.6 438.06 M864.29 435.68 L864.99 437.38 M865.48 433.98 L865.48 438.4 L865.12 440.1 M865.48 433.98 L866.4 433.98 L866.4 439.76 L866.9 439.76 L866.9 438.74 M868.03 434.32 L868.03 438.06 L868.69 437.38 M868.69 433.3 L868.69 440.1 M869.68 433.3 L869.18 436.02 M869.51 435 L871 435 M870.67 435 L870.17 437.72 L869.18 440.1 M869.61 436.36 L870.17 438.4 L871 440.1 M872.49 433.3 L872.49 440.1 M871.8 436.36 L873.28 436.36 M871.93 434.18 L872.16 435.34 M873.09 434.18 L872.82 435.34 M872.49 436.36 L871.8 439.08 M872.49 436.7 L873.25 438.4 M873.71 434.32 L874.11 435.07 M873.71 436.02 L874.11 436.77 M873.45 438.2 L875.1 437.58 M874.6 433.3 L874.6 440.1 M876.06 435 L879.03 435 M877.55 433.3 L876.23 437.38 M876.73 436.7 L876.73 439.42 M876.73 436.7 L878.7 436.7 L878.7 439.42 L878.38 439.15 M877.72 435.68 L877.72 440.1 M880.23 433.64 L883.13 433.64 L883.13 440.1 L880.23 440.1 L880.23 433.64 M881.49 434.32 L880.83 436.36 M881.32 435.14 L882.31 435.14 L880.83 438.06 M881.32 436.16 L882.64 438.06 M881.49 438.06 L881.85 438.54 M881.32 439.01 L881.98 439.56" stroke="#00ff00" stroke-width="1.35" fill="none" stroke-linecap="square"/>
</svg></body></html>
